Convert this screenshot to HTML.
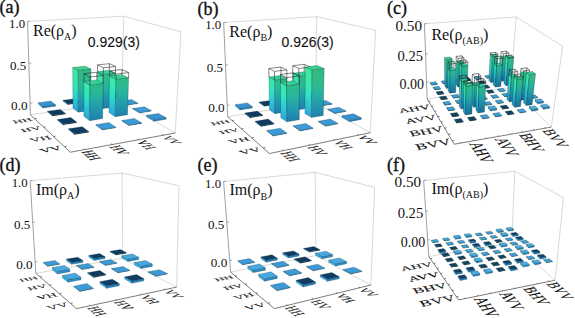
<!DOCTYPE html><html><head><meta charset="utf-8"><style>html,body{margin:0;padding:0;background:#fff;}svg{display:block;font-family:"Liberation Serif",serif;}</style></head><body><svg width="575" height="318" viewBox="0 0 575 318" font-family="Liberation Serif, serif"><defs><linearGradient id="g1" gradientUnits="userSpaceOnUse" x1="102.90" y1="108.62" x2="103.34" y2="74.47"><stop offset="0.000" stop-color="#2aa2d8"/><stop offset="0.167" stop-color="#2ab3d9"/><stop offset="0.333" stop-color="#2bc4d8"/><stop offset="0.500" stop-color="#2ed6ce"/><stop offset="0.667" stop-color="#32e2c1"/><stop offset="0.833" stop-color="#37e7b2"/><stop offset="1.000" stop-color="#3be8a9"/></linearGradient><linearGradient id="g2" gradientUnits="userSpaceOnUse" x1="114.78" y1="106.89" x2="115.46" y2="73.12"><stop offset="0.000" stop-color="#2282ad"/><stop offset="0.167" stop-color="#228fae"/><stop offset="0.333" stop-color="#229dad"/><stop offset="0.500" stop-color="#25aba5"/><stop offset="0.667" stop-color="#28b59b"/><stop offset="0.833" stop-color="#2cb98f"/><stop offset="1.000" stop-color="#30ba87"/></linearGradient><linearGradient id="g3" gradientUnits="userSpaceOnUse" x1="78.28" y1="112.21" x2="78.20" y2="70.46"><stop offset="0.000" stop-color="#2aa2d8"/><stop offset="0.167" stop-color="#2ab6d9"/><stop offset="0.333" stop-color="#2ccbd4"/><stop offset="0.500" stop-color="#30e0c8"/><stop offset="0.667" stop-color="#36e6b6"/><stop offset="0.833" stop-color="#3be8aa"/><stop offset="1.000" stop-color="#40e8a0"/></linearGradient><linearGradient id="g4" gradientUnits="userSpaceOnUse" x1="90.74" y1="110.39" x2="90.97" y2="69.12"><stop offset="0.000" stop-color="#2282ad"/><stop offset="0.167" stop-color="#2292ae"/><stop offset="0.333" stop-color="#23a2aa"/><stop offset="0.500" stop-color="#26b3a0"/><stop offset="0.667" stop-color="#2bb891"/><stop offset="0.833" stop-color="#2fba88"/><stop offset="1.000" stop-color="#33ba80"/></linearGradient><linearGradient id="g5" gradientUnits="userSpaceOnUse" x1="115.25" y1="116.66" x2="116.02" y2="79.29"><stop offset="0.000" stop-color="#2aa2d8"/><stop offset="0.167" stop-color="#2ab4d9"/><stop offset="0.333" stop-color="#2bc6d7"/><stop offset="0.500" stop-color="#2fd8cc"/><stop offset="0.667" stop-color="#33e3bf"/><stop offset="0.833" stop-color="#38e8af"/><stop offset="1.000" stop-color="#3de8a7"/></linearGradient><linearGradient id="g6" gradientUnits="userSpaceOnUse" x1="127.54" y1="114.75" x2="128.56" y2="77.81"><stop offset="0.000" stop-color="#2282ad"/><stop offset="0.167" stop-color="#2290ae"/><stop offset="0.333" stop-color="#229eac"/><stop offset="0.500" stop-color="#25ada3"/><stop offset="0.667" stop-color="#29b698"/><stop offset="0.833" stop-color="#2dba8c"/><stop offset="1.000" stop-color="#30ba85"/></linearGradient><linearGradient id="g7" gradientUnits="userSpaceOnUse" x1="89.74" y1="120.63" x2="89.92" y2="85.03"><stop offset="0.000" stop-color="#2aa2d8"/><stop offset="0.167" stop-color="#2ab2d9"/><stop offset="0.333" stop-color="#2bc3d8"/><stop offset="0.500" stop-color="#2ed4ce"/><stop offset="0.667" stop-color="#32e2c3"/><stop offset="0.833" stop-color="#37e7b4"/><stop offset="1.000" stop-color="#3be8aa"/></linearGradient><linearGradient id="g8" gradientUnits="userSpaceOnUse" x1="102.66" y1="118.62" x2="103.11" y2="83.44"><stop offset="0.000" stop-color="#2282ad"/><stop offset="0.167" stop-color="#228fae"/><stop offset="0.333" stop-color="#229cad"/><stop offset="0.500" stop-color="#25aaa5"/><stop offset="0.667" stop-color="#28b59c"/><stop offset="0.833" stop-color="#2cb990"/><stop offset="1.000" stop-color="#2fba88"/></linearGradient><linearGradient id="g9" gradientUnits="userSpaceOnUse" x1="298.66" y1="109.74" x2="298.81" y2="76.06"><stop offset="0.000" stop-color="#2aa2d8"/><stop offset="0.167" stop-color="#2ab2d9"/><stop offset="0.333" stop-color="#2bc3d8"/><stop offset="0.500" stop-color="#2ed4ce"/><stop offset="0.667" stop-color="#32e2c3"/><stop offset="0.833" stop-color="#37e7b4"/><stop offset="1.000" stop-color="#3be8aa"/></linearGradient><linearGradient id="g10" gradientUnits="userSpaceOnUse" x1="310.07" y1="107.86" x2="310.46" y2="74.57"><stop offset="0.000" stop-color="#2282ad"/><stop offset="0.167" stop-color="#228fae"/><stop offset="0.333" stop-color="#229cad"/><stop offset="0.500" stop-color="#25aaa5"/><stop offset="0.667" stop-color="#28b59c"/><stop offset="0.833" stop-color="#2cb990"/><stop offset="1.000" stop-color="#2fba88"/></linearGradient><linearGradient id="g11" gradientUnits="userSpaceOnUse" x1="274.95" y1="113.64" x2="274.57" y2="80.02"><stop offset="0.000" stop-color="#2aa2d8"/><stop offset="0.167" stop-color="#2ab2d9"/><stop offset="0.333" stop-color="#2ac2d9"/><stop offset="0.500" stop-color="#2ed3cf"/><stop offset="0.667" stop-color="#31e1c4"/><stop offset="0.833" stop-color="#36e6b6"/><stop offset="1.000" stop-color="#3ae8ab"/></linearGradient><linearGradient id="g12" gradientUnits="userSpaceOnUse" x1="286.96" y1="111.67" x2="286.85" y2="78.44"><stop offset="0.000" stop-color="#2282ad"/><stop offset="0.167" stop-color="#228eae"/><stop offset="0.333" stop-color="#229bad"/><stop offset="0.500" stop-color="#24a9a6"/><stop offset="0.667" stop-color="#27b49d"/><stop offset="0.833" stop-color="#2bb891"/><stop offset="1.000" stop-color="#2fba89"/></linearGradient><linearGradient id="g13" gradientUnits="userSpaceOnUse" x1="311.42" y1="117.55" x2="312.03" y2="69.95"><stop offset="0.000" stop-color="#2aa2d8"/><stop offset="0.167" stop-color="#2ab8d9"/><stop offset="0.333" stop-color="#2dcfd2"/><stop offset="0.500" stop-color="#32e2c3"/><stop offset="0.667" stop-color="#38e8af"/><stop offset="0.833" stop-color="#3ee8a5"/><stop offset="1.000" stop-color="#40e8a0"/></linearGradient><linearGradient id="g14" gradientUnits="userSpaceOnUse" x1="323.22" y1="115.47" x2="324.18" y2="68.45"><stop offset="0.000" stop-color="#2282ad"/><stop offset="0.167" stop-color="#2293ae"/><stop offset="0.333" stop-color="#24a6a8"/><stop offset="0.500" stop-color="#28b59c"/><stop offset="0.667" stop-color="#2dba8c"/><stop offset="0.833" stop-color="#31ba84"/><stop offset="1.000" stop-color="#33ba80"/></linearGradient><linearGradient id="g15" gradientUnits="userSpaceOnUse" x1="286.86" y1="121.86" x2="286.73" y2="85.78"><stop offset="0.000" stop-color="#2aa2d8"/><stop offset="0.167" stop-color="#2ab2d9"/><stop offset="0.333" stop-color="#2bc3d8"/><stop offset="0.500" stop-color="#2ed4ce"/><stop offset="0.667" stop-color="#32e2c3"/><stop offset="0.833" stop-color="#37e7b4"/><stop offset="1.000" stop-color="#3be8aa"/></linearGradient><linearGradient id="g16" gradientUnits="userSpaceOnUse" x1="299.31" y1="119.68" x2="299.47" y2="84.04"><stop offset="0.000" stop-color="#2282ad"/><stop offset="0.167" stop-color="#228fae"/><stop offset="0.333" stop-color="#229cad"/><stop offset="0.500" stop-color="#25aaa5"/><stop offset="0.667" stop-color="#28b59c"/><stop offset="0.833" stop-color="#2cb990"/><stop offset="1.000" stop-color="#2fba88"/></linearGradient><linearGradient id="g17" gradientUnits="userSpaceOnUse" x1="501.67" y1="81.23" x2="503.17" y2="58.21"><stop offset="0.000" stop-color="#1f8cc0"/><stop offset="0.167" stop-color="#229fc9"/><stop offset="0.333" stop-color="#26b1d3"/><stop offset="0.500" stop-color="#2ac4ce"/><stop offset="0.667" stop-color="#2fd7c6"/><stop offset="0.833" stop-color="#34e0ba"/><stop offset="1.000" stop-color="#3ae6ad"/></linearGradient><linearGradient id="g18" gradientUnits="userSpaceOnUse" x1="506.92" y1="80.55" x2="508.58" y2="57.61"><stop offset="0.000" stop-color="#19709a"/><stop offset="0.167" stop-color="#1b7fa1"/><stop offset="0.333" stop-color="#1e8ea9"/><stop offset="0.500" stop-color="#229da4"/><stop offset="0.667" stop-color="#25ac9f"/><stop offset="0.833" stop-color="#2ab395"/><stop offset="1.000" stop-color="#2eb88a"/></linearGradient><linearGradient id="g19" gradientUnits="userSpaceOnUse" x1="491.02" y1="82.61" x2="492.35" y2="56.55"><stop offset="0.000" stop-color="#1f8cc0"/><stop offset="0.167" stop-color="#23a1ca"/><stop offset="0.333" stop-color="#26b6d3"/><stop offset="0.500" stop-color="#2ccbcb"/><stop offset="0.667" stop-color="#31ddc1"/><stop offset="0.833" stop-color="#37e3b2"/><stop offset="1.000" stop-color="#3ee7a5"/></linearGradient><linearGradient id="g20" gradientUnits="userSpaceOnUse" x1="496.37" y1="81.91" x2="497.88" y2="55.96"><stop offset="0.000" stop-color="#19709a"/><stop offset="0.167" stop-color="#1c81a2"/><stop offset="0.333" stop-color="#1f91a9"/><stop offset="0.500" stop-color="#23a2a2"/><stop offset="0.667" stop-color="#27b19b"/><stop offset="0.833" stop-color="#2cb68f"/><stop offset="1.000" stop-color="#31b984"/></linearGradient><linearGradient id="g21" gradientUnits="userSpaceOnUse" x1="506.17" y1="85.67" x2="508.14" y2="58.23"><stop offset="0.000" stop-color="#1f8cc0"/><stop offset="0.167" stop-color="#23a2cb"/><stop offset="0.333" stop-color="#27b8d3"/><stop offset="0.500" stop-color="#2ccdca"/><stop offset="0.667" stop-color="#32debf"/><stop offset="0.833" stop-color="#39e5af"/><stop offset="1.000" stop-color="#3fe8a2"/></linearGradient><linearGradient id="g22" gradientUnits="userSpaceOnUse" x1="511.52" y1="84.96" x2="513.68" y2="57.62"><stop offset="0.000" stop-color="#19709a"/><stop offset="0.167" stop-color="#1c81a2"/><stop offset="0.333" stop-color="#1f93a8"/><stop offset="0.500" stop-color="#23a4a1"/><stop offset="0.667" stop-color="#28b299"/><stop offset="0.833" stop-color="#2db78c"/><stop offset="1.000" stop-color="#33b981"/></linearGradient><linearGradient id="g23" gradientUnits="userSpaceOnUse" x1="495.33" y1="87.12" x2="496.55" y2="65.86"><stop offset="0.000" stop-color="#1f8cc0"/><stop offset="0.167" stop-color="#229dc8"/><stop offset="0.333" stop-color="#25aed1"/><stop offset="0.500" stop-color="#29bfd0"/><stop offset="0.667" stop-color="#2dd0c9"/><stop offset="0.833" stop-color="#31ddc1"/><stop offset="1.000" stop-color="#36e2b5"/></linearGradient><linearGradient id="g24" gradientUnits="userSpaceOnUse" x1="500.78" y1="86.39" x2="502.15" y2="65.21"><stop offset="0.000" stop-color="#19709a"/><stop offset="0.167" stop-color="#1b7ea0"/><stop offset="0.333" stop-color="#1e8ba7"/><stop offset="0.500" stop-color="#2199a6"/><stop offset="0.667" stop-color="#24a6a1"/><stop offset="0.833" stop-color="#27b19a"/><stop offset="1.000" stop-color="#2cb591"/></linearGradient><linearGradient id="g25" gradientUnits="userSpaceOnUse" x1="457.88" y1="86.89" x2="458.04" y2="63.16"><stop offset="0.000" stop-color="#1f8cc0"/><stop offset="0.167" stop-color="#229fc9"/><stop offset="0.333" stop-color="#26b1d3"/><stop offset="0.500" stop-color="#2ac4ce"/><stop offset="0.667" stop-color="#2fd7c6"/><stop offset="0.833" stop-color="#34e0ba"/><stop offset="1.000" stop-color="#3ae6ad"/></linearGradient><linearGradient id="g26" gradientUnits="userSpaceOnUse" x1="463.53" y1="86.16" x2="463.87" y2="62.52"><stop offset="0.000" stop-color="#19709a"/><stop offset="0.167" stop-color="#1b7fa1"/><stop offset="0.333" stop-color="#1e8ea9"/><stop offset="0.500" stop-color="#229da4"/><stop offset="0.667" stop-color="#25ac9f"/><stop offset="0.833" stop-color="#2ab395"/><stop offset="1.000" stop-color="#2eb88a"/></linearGradient><linearGradient id="g27" gradientUnits="userSpaceOnUse" x1="446.41" y1="88.37" x2="446.16" y2="59.73"><stop offset="0.000" stop-color="#1f8cc0"/><stop offset="0.167" stop-color="#23a2cb"/><stop offset="0.333" stop-color="#27b8d2"/><stop offset="0.500" stop-color="#2dcfc9"/><stop offset="0.667" stop-color="#33dfbe"/><stop offset="0.833" stop-color="#39e5ae"/><stop offset="1.000" stop-color="#40e8a0"/></linearGradient><linearGradient id="g28" gradientUnits="userSpaceOnUse" x1="452.17" y1="87.63" x2="452.14" y2="59.09"><stop offset="0.000" stop-color="#19709a"/><stop offset="0.167" stop-color="#1c82a2"/><stop offset="0.333" stop-color="#1f94a8"/><stop offset="0.500" stop-color="#24a5a1"/><stop offset="0.667" stop-color="#29b298"/><stop offset="0.833" stop-color="#2eb78b"/><stop offset="1.000" stop-color="#33ba80"/></linearGradient><linearGradient id="g29" gradientUnits="userSpaceOnUse" x1="461.57" y1="91.63" x2="461.87" y2="66.32"><stop offset="0.000" stop-color="#1f8cc0"/><stop offset="0.167" stop-color="#22a0ca"/><stop offset="0.333" stop-color="#26b3d4"/><stop offset="0.500" stop-color="#2bc7cd"/><stop offset="0.667" stop-color="#30dac5"/><stop offset="0.833" stop-color="#35e1b7"/><stop offset="1.000" stop-color="#3be6aa"/></linearGradient><linearGradient id="g30" gradientUnits="userSpaceOnUse" x1="467.33" y1="90.86" x2="467.82" y2="65.65"><stop offset="0.000" stop-color="#19709a"/><stop offset="0.167" stop-color="#1c80a1"/><stop offset="0.333" stop-color="#1e8fa9"/><stop offset="0.500" stop-color="#229fa4"/><stop offset="0.667" stop-color="#26af9d"/><stop offset="0.833" stop-color="#2bb493"/><stop offset="1.000" stop-color="#2fb888"/></linearGradient><linearGradient id="g31" gradientUnits="userSpaceOnUse" x1="449.88" y1="93.20" x2="449.79" y2="70.67"><stop offset="0.000" stop-color="#1f8cc0"/><stop offset="0.167" stop-color="#229dc9"/><stop offset="0.333" stop-color="#25afd1"/><stop offset="0.500" stop-color="#29c0cf"/><stop offset="0.667" stop-color="#2dd1c8"/><stop offset="0.833" stop-color="#32debf"/><stop offset="1.000" stop-color="#37e3b3"/></linearGradient><linearGradient id="g32" gradientUnits="userSpaceOnUse" x1="455.75" y1="92.41" x2="455.84" y2="69.97"><stop offset="0.000" stop-color="#19709a"/><stop offset="0.167" stop-color="#1b7ea1"/><stop offset="0.333" stop-color="#1e8ca7"/><stop offset="0.500" stop-color="#219aa6"/><stop offset="0.667" stop-color="#24a7a0"/><stop offset="0.833" stop-color="#28b299"/><stop offset="1.000" stop-color="#2cb68f"/></linearGradient><linearGradient id="g33" gradientUnits="userSpaceOnUse" x1="520.94" y1="100.24" x2="523.36" y2="74.44"><stop offset="0.000" stop-color="#1f8cc0"/><stop offset="0.167" stop-color="#22a0ca"/><stop offset="0.333" stop-color="#26b3d4"/><stop offset="0.500" stop-color="#2bc7cd"/><stop offset="0.667" stop-color="#30dac5"/><stop offset="0.833" stop-color="#35e1b7"/><stop offset="1.000" stop-color="#3be6aa"/></linearGradient><linearGradient id="g34" gradientUnits="userSpaceOnUse" x1="526.59" y1="99.41" x2="529.19" y2="73.71"><stop offset="0.000" stop-color="#19709a"/><stop offset="0.167" stop-color="#1c80a1"/><stop offset="0.333" stop-color="#1e8fa9"/><stop offset="0.500" stop-color="#229fa4"/><stop offset="0.667" stop-color="#26af9d"/><stop offset="0.833" stop-color="#2bb493"/><stop offset="1.000" stop-color="#2fb888"/></linearGradient><linearGradient id="g35" gradientUnits="userSpaceOnUse" x1="509.49" y1="101.94" x2="511.42" y2="77.16"><stop offset="0.000" stop-color="#1f8cc0"/><stop offset="0.167" stop-color="#229fc9"/><stop offset="0.333" stop-color="#26b1d3"/><stop offset="0.500" stop-color="#2ac4ce"/><stop offset="0.667" stop-color="#2fd7c6"/><stop offset="0.833" stop-color="#34e0ba"/><stop offset="1.000" stop-color="#3ae6ad"/></linearGradient><linearGradient id="g36" gradientUnits="userSpaceOnUse" x1="515.24" y1="101.09" x2="517.36" y2="76.40"><stop offset="0.000" stop-color="#19709a"/><stop offset="0.167" stop-color="#1b7fa1"/><stop offset="0.333" stop-color="#1e8ea9"/><stop offset="0.500" stop-color="#229da4"/><stop offset="0.667" stop-color="#25ac9f"/><stop offset="0.833" stop-color="#2ab395"/><stop offset="1.000" stop-color="#2eb88a"/></linearGradient><linearGradient id="g37" gradientUnits="userSpaceOnUse" x1="526.33" y1="105.56" x2="529.47" y2="74.72"><stop offset="0.000" stop-color="#1f8cc0"/><stop offset="0.167" stop-color="#23a3cb"/><stop offset="0.333" stop-color="#27bad2"/><stop offset="0.500" stop-color="#2dd1c9"/><stop offset="0.667" stop-color="#33dfbc"/><stop offset="0.833" stop-color="#3ae6ab"/><stop offset="1.000" stop-color="#40e8a0"/></linearGradient><linearGradient id="g38" gradientUnits="userSpaceOnUse" x1="532.08" y1="104.68" x2="535.45" y2="73.96"><stop offset="0.000" stop-color="#19709a"/><stop offset="0.167" stop-color="#1c82a3"/><stop offset="0.333" stop-color="#2095a8"/><stop offset="0.500" stop-color="#24a7a0"/><stop offset="0.667" stop-color="#29b396"/><stop offset="0.833" stop-color="#2fb889"/><stop offset="1.000" stop-color="#33ba80"/></linearGradient><linearGradient id="g39" gradientUnits="userSpaceOnUse" x1="514.66" y1="107.35" x2="517.06" y2="79.40"><stop offset="0.000" stop-color="#1f8cc0"/><stop offset="0.167" stop-color="#23a1ca"/><stop offset="0.333" stop-color="#26b5d4"/><stop offset="0.500" stop-color="#2bcacb"/><stop offset="0.667" stop-color="#31ddc2"/><stop offset="0.833" stop-color="#37e3b3"/><stop offset="1.000" stop-color="#3de7a6"/></linearGradient><linearGradient id="g40" gradientUnits="userSpaceOnUse" x1="520.53" y1="106.45" x2="523.14" y2="78.61"><stop offset="0.000" stop-color="#19709a"/><stop offset="0.167" stop-color="#1c80a2"/><stop offset="0.333" stop-color="#1f91a9"/><stop offset="0.500" stop-color="#23a1a3"/><stop offset="0.667" stop-color="#27b19b"/><stop offset="0.833" stop-color="#2cb68f"/><stop offset="1.000" stop-color="#31b985"/></linearGradient><linearGradient id="g41" gradientUnits="userSpaceOnUse" x1="473.71" y1="107.24" x2="474.34" y2="85.58"><stop offset="0.000" stop-color="#1f8cc0"/><stop offset="0.167" stop-color="#229cc8"/><stop offset="0.333" stop-color="#25acd0"/><stop offset="0.500" stop-color="#28bcd1"/><stop offset="0.667" stop-color="#2cccca"/><stop offset="0.833" stop-color="#30dcc4"/><stop offset="1.000" stop-color="#35e1b8"/></linearGradient><linearGradient id="g42" gradientUnits="userSpaceOnUse" x1="479.83" y1="106.33" x2="480.63" y2="84.77"><stop offset="0.000" stop-color="#19709a"/><stop offset="0.167" stop-color="#1b7da0"/><stop offset="0.333" stop-color="#1d8aa6"/><stop offset="0.500" stop-color="#2096a7"/><stop offset="0.667" stop-color="#23a3a2"/><stop offset="0.833" stop-color="#26b09d"/><stop offset="1.000" stop-color="#2ab494"/></linearGradient><linearGradient id="g43" gradientUnits="userSpaceOnUse" x1="461.29" y1="109.07" x2="461.61" y2="81.58"><stop offset="0.000" stop-color="#1f8cc0"/><stop offset="0.167" stop-color="#22a0ca"/><stop offset="0.333" stop-color="#26b4d4"/><stop offset="0.500" stop-color="#2bc8cc"/><stop offset="0.667" stop-color="#30dcc4"/><stop offset="0.833" stop-color="#36e2b6"/><stop offset="1.000" stop-color="#3ce7a8"/></linearGradient><linearGradient id="g44" gradientUnits="userSpaceOnUse" x1="467.54" y1="108.15" x2="468.09" y2="80.77"><stop offset="0.000" stop-color="#19709a"/><stop offset="0.167" stop-color="#1c80a2"/><stop offset="0.333" stop-color="#1e90aa"/><stop offset="0.500" stop-color="#22a0a3"/><stop offset="0.667" stop-color="#26b09d"/><stop offset="0.833" stop-color="#2bb591"/><stop offset="1.000" stop-color="#30b986"/></linearGradient><linearGradient id="g45" gradientUnits="userSpaceOnUse" x1="478.16" y1="112.95" x2="479.07" y2="87.12"><stop offset="0.000" stop-color="#1f8cc0"/><stop offset="0.167" stop-color="#229fc9"/><stop offset="0.333" stop-color="#26b1d3"/><stop offset="0.500" stop-color="#2ac4ce"/><stop offset="0.667" stop-color="#2fd7c6"/><stop offset="0.833" stop-color="#34e0ba"/><stop offset="1.000" stop-color="#3ae6ad"/></linearGradient><linearGradient id="g46" gradientUnits="userSpaceOnUse" x1="484.40" y1="111.99" x2="485.54" y2="86.27"><stop offset="0.000" stop-color="#19709a"/><stop offset="0.167" stop-color="#1b7fa1"/><stop offset="0.333" stop-color="#1e8ea9"/><stop offset="0.500" stop-color="#229da4"/><stop offset="0.667" stop-color="#25ac9f"/><stop offset="0.833" stop-color="#2ab395"/><stop offset="1.000" stop-color="#2eb88a"/></linearGradient><linearGradient id="g47" gradientUnits="userSpaceOnUse" x1="465.48" y1="114.90" x2="465.98" y2="86.27"><stop offset="0.000" stop-color="#1f8cc0"/><stop offset="0.167" stop-color="#23a0ca"/><stop offset="0.333" stop-color="#26b5d4"/><stop offset="0.500" stop-color="#2bc9cb"/><stop offset="0.667" stop-color="#31ddc3"/><stop offset="0.833" stop-color="#37e3b4"/><stop offset="1.000" stop-color="#3de7a6"/></linearGradient><linearGradient id="g48" gradientUnits="userSpaceOnUse" x1="471.85" y1="113.92" x2="472.61" y2="85.41"><stop offset="0.000" stop-color="#19709a"/><stop offset="0.167" stop-color="#1c80a2"/><stop offset="0.333" stop-color="#1f91a9"/><stop offset="0.500" stop-color="#23a1a3"/><stop offset="0.667" stop-color="#27b09c"/><stop offset="0.833" stop-color="#2cb590"/><stop offset="1.000" stop-color="#31b985"/></linearGradient></defs><rect width="575" height="318" fill="#fff"/><line x1="27.55" y1="21.47" x2="123.82" y2="16.21" stroke="#c8c8c8" stroke-width="0.70"/><line x1="123.82" y1="16.21" x2="180.98" y2="31.77" stroke="#c8c8c8" stroke-width="0.70"/><line x1="123.82" y1="16.21" x2="121.76" y2="101.89" stroke="#c8c8c8" stroke-width="0.70"/><line x1="180.98" y1="31.77" x2="175.19" y2="133.02" stroke="#c8c8c8" stroke-width="0.70"/><line x1="30.42" y1="114.81" x2="121.76" y2="101.89" stroke="#c8c8c8" stroke-width="0.70"/><line x1="121.76" y1="101.89" x2="175.19" y2="133.02" stroke="#c8c8c8" stroke-width="0.70"/><line x1="27.55" y1="21.47" x2="30.42" y2="114.81" stroke="#888" stroke-width="0.80"/><line x1="27.55" y1="21.47" x2="30.19" y2="21.32" stroke="#888" stroke-width="0.7"/><text x="25.05" y="27.97" font-size="12.8" text-anchor="end" fill="#111">1.0</text><line x1="28.84" y1="63.31" x2="31.41" y2="63.07" stroke="#888" stroke-width="0.7"/><text x="26.34" y="69.81" font-size="13.0" text-anchor="end" fill="#111">0.5</text><line x1="30.06" y1="103.20" x2="32.57" y2="102.88" stroke="#888" stroke-width="0.7"/><text x="27.56" y="109.70" font-size="13.2" text-anchor="end" fill="#111">0.0</text><line x1="30.42" y1="114.81" x2="70.33" y2="152.21" stroke="#444" stroke-width="0.70"/><line x1="70.33" y1="152.21" x2="175.19" y2="133.02" stroke="#444" stroke-width="0.70"/><line x1="34.62" y1="118.75" x2="36.65" y2="118.45" stroke="#333" stroke-width="0.60"/><line x1="84.71" y1="149.58" x2="83.70" y2="148.70" stroke="#333" stroke-width="0.60"/><line x1="43.62" y1="127.18" x2="45.73" y2="126.86" stroke="#333" stroke-width="0.60"/><line x1="112.31" y1="144.53" x2="111.21" y2="143.69" stroke="#333" stroke-width="0.60"/><line x1="53.51" y1="136.45" x2="55.70" y2="136.09" stroke="#333" stroke-width="0.60"/><line x1="138.46" y1="139.74" x2="137.28" y2="138.95" stroke="#333" stroke-width="0.60"/><line x1="64.43" y1="146.68" x2="66.71" y2="146.28" stroke="#333" stroke-width="0.60"/><line x1="163.26" y1="135.20" x2="162.02" y2="134.44" stroke="#333" stroke-width="0.60"/><text transform="matrix(1.2866,-0.1895,0.4310,0.4115,33.10,120.66)" font-size="10" text-anchor="end" fill="#111" stroke="#111" stroke-width="0.1">HH</text><text transform="matrix(0.6961,0.6217,-1.5834,0.2924,81.09,151.87)" font-size="10" text-anchor="start" fill="#111" stroke="#111" stroke-width="0.1">HH</text><text transform="matrix(1.3367,-0.2094,0.4731,0.4517,42.13,129.29)" font-size="10" text-anchor="end" fill="#111" stroke="#111" stroke-width="0.1">HV</text><text transform="matrix(0.7570,0.5900,-1.4981,0.2766,109.09,146.70)" font-size="10" text-anchor="start" fill="#111" stroke="#111" stroke-width="0.1">HV</text><text transform="matrix(1.3906,-0.2324,0.5217,0.4981,52.07,138.77)" font-size="10" text-anchor="end" fill="#111" stroke="#111" stroke-width="0.1">VH</text><text transform="matrix(0.8105,0.5607,-1.4195,0.2621,135.61,141.80)" font-size="10" text-anchor="start" fill="#111" stroke="#111" stroke-width="0.1">VH</text><text transform="matrix(1.4487,-0.2592,0.5782,0.5520,63.06,149.26)" font-size="10" text-anchor="end" fill="#111" stroke="#111" stroke-width="0.1">VV</text><text transform="matrix(0.8576,0.5336,-1.3469,0.2487,160.75,137.16)" font-size="10" text-anchor="start" fill="#111" stroke="#111" stroke-width="0.1">VV</text><polygon points="108.72,94.88 114.36,98.17 114.37,97.57 108.73,94.29" fill="#2496d8" stroke="rgba(0,40,40,0.55)" stroke-width="0.45" stroke-linejoin="round"/><polygon points="114.36,98.17 125.34,96.67 125.36,96.08 114.37,97.57" fill="#0c2c48" stroke="rgba(0,40,40,0.55)" stroke-width="0.45" stroke-linejoin="round"/><polygon points="108.73,94.29 119.56,92.86 125.36,96.08 114.37,97.57" fill="#113b5e" stroke="rgba(0,40,40,0.55)" stroke-width="0.45" stroke-linejoin="round"/><polygon points="86.35,97.85 91.63,101.28 91.63,100.67 86.35,97.24" fill="#2496d8" stroke="rgba(0,40,40,0.55)" stroke-width="0.45" stroke-linejoin="round"/><polygon points="91.63,101.28 103.12,99.71 103.13,99.10 91.63,100.67" fill="#0c2c48" stroke="rgba(0,40,40,0.55)" stroke-width="0.45" stroke-linejoin="round"/><polygon points="86.35,97.24 97.67,95.75 103.13,99.10 91.63,100.67" fill="#113b5e" stroke="rgba(0,40,40,0.55)" stroke-width="0.45" stroke-linejoin="round"/><polygon points="120.24,101.61 126.38,105.20 126.39,104.74 120.25,101.15" fill="#32acf0" stroke="rgba(0,40,40,0.55)" stroke-width="0.45" stroke-linejoin="round"/><polygon points="126.38,105.20 137.71,103.56 137.73,103.09 126.39,104.74" fill="#2b84c4" stroke="rgba(0,40,40,0.55)" stroke-width="0.45" stroke-linejoin="round"/><polygon points="120.25,101.15 131.41,99.59 137.73,103.09 126.39,104.74" fill="#3d9ad8" stroke="rgba(0,40,40,0.55)" stroke-width="0.45" stroke-linejoin="round"/><polygon points="62.95,100.95 67.83,104.53 67.83,103.91 62.95,100.34" fill="#2496d8" stroke="rgba(0,40,40,0.55)" stroke-width="0.45" stroke-linejoin="round"/><polygon points="67.83,104.53 79.87,102.89 79.87,102.27 67.83,103.91" fill="#0c2c48" stroke="rgba(0,40,40,0.55)" stroke-width="0.45" stroke-linejoin="round"/><polygon points="62.95,100.34 74.78,98.77 79.87,102.27 67.83,103.91" fill="#113b5e" stroke="rgba(0,40,40,0.55)" stroke-width="0.45" stroke-linejoin="round"/><polygon points="97.14,104.87 102.90,108.62 103.34,74.47 97.46,71.42" fill="url(#g1)" stroke="rgba(0,40,40,0.55)" stroke-width="0.45" stroke-linejoin="round"/><polygon points="102.90,108.62 114.78,106.89 115.46,73.12 103.34,74.47" fill="url(#g2)" stroke="rgba(0,40,40,0.55)" stroke-width="0.45" stroke-linejoin="round"/><polygon points="97.46,71.42 109.37,70.14 115.46,73.12 103.34,74.47" fill="#35d198" stroke="rgba(0,40,40,0.55)" stroke-width="0.45" stroke-linejoin="round"/><line x1="97.52" y1="64.90" x2="109.47" y2="63.68" stroke="#222" stroke-width="0.55"/><line x1="109.47" y1="63.68" x2="115.59" y2="66.53" stroke="#222" stroke-width="0.55"/><line x1="115.59" y1="66.53" x2="103.43" y2="67.81" stroke="#222" stroke-width="0.55"/><line x1="103.43" y1="67.81" x2="97.52" y2="64.90" stroke="#222" stroke-width="0.55"/><line x1="97.46" y1="71.42" x2="97.52" y2="64.90" stroke="#222" stroke-width="0.55"/><line x1="109.37" y1="70.14" x2="109.47" y2="63.68" stroke="#222" stroke-width="0.55"/><line x1="115.46" y1="73.12" x2="115.59" y2="66.53" stroke="#222" stroke-width="0.55"/><line x1="103.34" y1="74.47" x2="103.43" y2="67.81" stroke="#222" stroke-width="0.55"/><polygon points="38.46,104.20 42.89,107.94 42.86,106.34 38.42,102.63" fill="#32acf0" stroke="rgba(0,40,40,0.55)" stroke-width="0.45" stroke-linejoin="round"/><polygon points="42.89,107.94 55.51,106.22 55.49,104.64 42.86,106.34" fill="#2b84c4" stroke="rgba(0,40,40,0.55)" stroke-width="0.45" stroke-linejoin="round"/><polygon points="38.42,102.63 50.82,101.00 55.49,104.64 42.86,106.34" fill="#3b92d2" stroke="rgba(0,40,40,0.55)" stroke-width="0.45" stroke-linejoin="round"/><polygon points="132.80,108.96 139.52,112.89 139.54,112.40 132.82,108.48" fill="#32acf0" stroke="rgba(0,40,40,0.55)" stroke-width="0.45" stroke-linejoin="round"/><polygon points="139.52,112.89 151.21,111.07 151.23,110.59 139.54,112.40" fill="#2b84c4" stroke="rgba(0,40,40,0.55)" stroke-width="0.45" stroke-linejoin="round"/><polygon points="132.82,108.48 144.33,106.76 151.23,110.59 139.54,112.40" fill="#3d9ad8" stroke="rgba(0,40,40,0.55)" stroke-width="0.45" stroke-linejoin="round"/><polygon points="72.94,108.28 78.28,112.21 78.20,70.46 72.73,67.41" fill="url(#g3)" stroke="rgba(0,40,40,0.55)" stroke-width="0.45" stroke-linejoin="round"/><polygon points="78.28,112.21 90.74,110.39 90.97,69.12 78.20,70.46" fill="url(#g4)" stroke="rgba(0,40,40,0.55)" stroke-width="0.45" stroke-linejoin="round"/><polygon points="72.73,67.41 85.27,66.14 90.97,69.12 78.20,70.46" fill="#3ad190" stroke="rgba(0,40,40,0.55)" stroke-width="0.45" stroke-linejoin="round"/><polygon points="108.94,112.55 115.25,116.66 116.02,79.29 109.54,75.97" fill="url(#g5)" stroke="rgba(0,40,40,0.55)" stroke-width="0.45" stroke-linejoin="round"/><polygon points="115.25,116.66 127.54,114.75 128.56,77.81 116.02,79.29" fill="url(#g6)" stroke="rgba(0,40,40,0.55)" stroke-width="0.45" stroke-linejoin="round"/><polygon points="109.54,75.97 121.87,74.57 128.56,77.81 116.02,79.29" fill="#37d196" stroke="rgba(0,40,40,0.55)" stroke-width="0.45" stroke-linejoin="round"/><line x1="109.63" y1="70.86" x2="121.99" y2="69.52" stroke="#222" stroke-width="0.55"/><line x1="121.99" y1="69.52" x2="128.71" y2="72.64" stroke="#222" stroke-width="0.55"/><line x1="128.71" y1="72.64" x2="116.12" y2="74.06" stroke="#222" stroke-width="0.55"/><line x1="116.12" y1="74.06" x2="109.63" y2="70.86" stroke="#222" stroke-width="0.55"/><line x1="109.54" y1="75.97" x2="109.63" y2="70.86" stroke="#222" stroke-width="0.55"/><line x1="121.87" y1="74.57" x2="121.99" y2="69.52" stroke="#222" stroke-width="0.55"/><line x1="128.56" y1="77.81" x2="128.71" y2="72.64" stroke="#222" stroke-width="0.55"/><line x1="116.02" y1="79.29" x2="116.12" y2="74.06" stroke="#222" stroke-width="0.55"/><polygon points="47.54,111.86 52.41,115.97 52.40,115.30 47.53,111.21" fill="#2496d8" stroke="rgba(0,40,40,0.55)" stroke-width="0.45" stroke-linejoin="round"/><polygon points="52.41,115.97 65.50,114.07 65.50,113.41 52.40,115.30" fill="#0c2c48" stroke="rgba(0,40,40,0.55)" stroke-width="0.45" stroke-linejoin="round"/><polygon points="47.53,111.21 60.38,109.41 65.50,113.41 52.40,115.30" fill="#113b5e" stroke="rgba(0,40,40,0.55)" stroke-width="0.45" stroke-linejoin="round"/><polygon points="146.56,117.01 153.94,121.32 154.02,119.63 146.62,115.34" fill="#32acf0" stroke="rgba(0,40,40,0.55)" stroke-width="0.45" stroke-linejoin="round"/><polygon points="153.94,121.32 166.02,119.31 166.10,117.63 154.02,119.63" fill="#2b84c4" stroke="rgba(0,40,40,0.55)" stroke-width="0.45" stroke-linejoin="round"/><polygon points="146.62,115.34 158.52,113.45 166.10,117.63 154.02,119.63" fill="#3b92d2" stroke="rgba(0,40,40,0.55)" stroke-width="0.45" stroke-linejoin="round"/><polygon points="83.87,116.32 89.74,120.63 89.92,85.03 83.92,81.49" fill="url(#g7)" stroke="rgba(0,40,40,0.55)" stroke-width="0.45" stroke-linejoin="round"/><polygon points="89.74,120.63 102.66,118.62 103.11,83.44 89.92,85.03" fill="url(#g8)" stroke="rgba(0,40,40,0.55)" stroke-width="0.45" stroke-linejoin="round"/><polygon points="83.92,81.49 96.87,79.99 103.11,83.44 89.92,85.03" fill="#35d199" stroke="rgba(0,40,40,0.55)" stroke-width="0.45" stroke-linejoin="round"/><line x1="83.93" y1="73.65" x2="96.94" y2="72.24" stroke="#222" stroke-width="0.55"/><line x1="96.94" y1="72.24" x2="103.21" y2="75.51" stroke="#222" stroke-width="0.55"/><line x1="103.21" y1="75.51" x2="89.96" y2="77.01" stroke="#222" stroke-width="0.55"/><line x1="89.96" y1="77.01" x2="83.93" y2="73.65" stroke="#222" stroke-width="0.55"/><line x1="83.92" y1="81.49" x2="83.93" y2="73.65" stroke="#222" stroke-width="0.55"/><line x1="96.87" y1="79.99" x2="96.94" y2="72.24" stroke="#222" stroke-width="0.55"/><line x1="103.11" y1="83.44" x2="103.21" y2="75.51" stroke="#222" stroke-width="0.55"/><line x1="89.92" y1="85.03" x2="89.96" y2="77.01" stroke="#222" stroke-width="0.55"/><polygon points="121.88,120.98 128.84,125.51 128.86,124.99 121.89,120.47" fill="#32acf0" stroke="rgba(0,40,40,0.55)" stroke-width="0.45" stroke-linejoin="round"/><polygon points="128.84,125.51 141.56,123.39 141.57,122.87 128.86,124.99" fill="#2b84c4" stroke="rgba(0,40,40,0.55)" stroke-width="0.45" stroke-linejoin="round"/><polygon points="121.89,120.47 134.39,118.46 141.57,122.87 128.86,124.99" fill="#3d9ad8" stroke="rgba(0,40,40,0.55)" stroke-width="0.45" stroke-linejoin="round"/><polygon points="57.51,120.28 62.88,124.81 62.87,124.11 57.50,119.60" fill="#2496d8" stroke="rgba(0,40,40,0.55)" stroke-width="0.45" stroke-linejoin="round"/><polygon points="62.88,124.81 76.48,122.69 76.48,122.00 62.87,124.11" fill="#0c2c48" stroke="rgba(0,40,40,0.55)" stroke-width="0.45" stroke-linejoin="round"/><polygon points="57.50,119.60 70.86,117.60 76.48,122.00 62.87,124.11" fill="#113b5e" stroke="rgba(0,40,40,0.55)" stroke-width="0.45" stroke-linejoin="round"/><polygon points="95.90,125.16 102.38,129.92 102.39,129.38 95.91,124.63" fill="#32acf0" stroke="rgba(0,40,40,0.55)" stroke-width="0.45" stroke-linejoin="round"/><polygon points="102.38,129.92 115.79,127.68 115.80,127.16 102.39,129.38" fill="#2b84c4" stroke="rgba(0,40,40,0.55)" stroke-width="0.45" stroke-linejoin="round"/><polygon points="95.91,124.63 109.07,122.52 115.80,127.16 102.39,129.38" fill="#3d9ad8" stroke="rgba(0,40,40,0.55)" stroke-width="0.45" stroke-linejoin="round"/><polygon points="68.52,129.56 74.45,134.57 74.45,133.84 68.51,128.85" fill="#2496d8" stroke="rgba(0,40,40,0.55)" stroke-width="0.45" stroke-linejoin="round"/><polygon points="74.45,134.57 88.61,132.21 88.61,131.49 74.45,133.84" fill="#0c2c48" stroke="rgba(0,40,40,0.55)" stroke-width="0.45" stroke-linejoin="round"/><polygon points="68.51,128.85 82.39,126.63 88.61,131.49 74.45,133.84" fill="#113b5e" stroke="rgba(0,40,40,0.55)" stroke-width="0.45" stroke-linejoin="round"/><line x1="223.70" y1="22.54" x2="316.82" y2="16.61" stroke="#c8c8c8" stroke-width="0.70"/><line x1="316.82" y1="16.61" x2="375.59" y2="30.38" stroke="#c8c8c8" stroke-width="0.70"/><line x1="316.82" y1="16.61" x2="315.51" y2="102.66" stroke="#c8c8c8" stroke-width="0.70"/><line x1="375.59" y1="30.38" x2="370.28" y2="132.71" stroke="#c8c8c8" stroke-width="0.70"/><line x1="227.68" y1="116.71" x2="315.51" y2="102.66" stroke="#c8c8c8" stroke-width="0.70"/><line x1="315.51" y1="102.66" x2="370.28" y2="132.71" stroke="#c8c8c8" stroke-width="0.70"/><line x1="223.70" y1="22.54" x2="227.68" y2="116.71" stroke="#888" stroke-width="0.80"/><line x1="223.70" y1="22.54" x2="226.26" y2="22.38" stroke="#888" stroke-width="0.7"/><text x="221.20" y="29.04" font-size="12.8" text-anchor="end" fill="#111">1.0</text><line x1="225.50" y1="65.06" x2="227.99" y2="64.79" stroke="#888" stroke-width="0.7"/><text x="223.00" y="71.56" font-size="13.0" text-anchor="end" fill="#111">0.5</text><line x1="227.20" y1="105.39" x2="229.63" y2="105.03" stroke="#888" stroke-width="0.7"/><text x="224.70" y="111.89" font-size="13.2" text-anchor="end" fill="#111">0.0</text><line x1="227.68" y1="116.71" x2="269.43" y2="153.51" stroke="#444" stroke-width="0.70"/><line x1="269.43" y1="153.51" x2="370.28" y2="132.71" stroke="#444" stroke-width="0.70"/><line x1="232.05" y1="120.55" x2="234.01" y2="120.23" stroke="#333" stroke-width="0.60"/><line x1="283.34" y1="150.64" x2="282.28" y2="149.77" stroke="#333" stroke-width="0.60"/><line x1="241.42" y1="128.82" x2="243.46" y2="128.46" stroke="#333" stroke-width="0.60"/><line x1="309.97" y1="145.15" x2="308.82" y2="144.33" stroke="#333" stroke-width="0.60"/><line x1="251.76" y1="137.93" x2="253.88" y2="137.54" stroke="#333" stroke-width="0.60"/><line x1="335.10" y1="139.97" x2="333.89" y2="139.19" stroke="#333" stroke-width="0.60"/><line x1="263.22" y1="148.03" x2="265.42" y2="147.59" stroke="#333" stroke-width="0.60"/><line x1="358.88" y1="135.07" x2="357.60" y2="134.33" stroke="#333" stroke-width="0.60"/><text transform="matrix(1.2443,-0.2069,0.4486,0.4029,230.69,122.48)" font-size="10" text-anchor="end" fill="#111" stroke="#111" stroke-width="0.1">HH</text><text transform="matrix(0.7324,0.6157,-1.5316,0.3185,279.97,153.00)" font-size="10" text-anchor="start" fill="#111" stroke="#111" stroke-width="0.1">HH</text><text transform="matrix(1.2934,-0.2285,0.4942,0.4438,240.11,130.94)" font-size="10" text-anchor="end" fill="#111" stroke="#111" stroke-width="0.1">HV</text><text transform="matrix(0.7915,0.5811,-1.4438,0.3003,307.00,147.37)" font-size="10" text-anchor="start" fill="#111" stroke="#111" stroke-width="0.1">HV</text><text transform="matrix(1.3463,-0.2535,0.5471,0.4914,250.51,140.28)" font-size="10" text-anchor="end" fill="#111" stroke="#111" stroke-width="0.1">VH</text><text transform="matrix(0.8428,0.5493,-1.3633,0.2835,332.51,142.07)" font-size="10" text-anchor="start" fill="#111" stroke="#111" stroke-width="0.1">VH</text><text transform="matrix(1.4033,-0.2829,0.6090,0.5470,262.06,150.65)" font-size="10" text-anchor="end" fill="#111" stroke="#111" stroke-width="0.1">VV</text><text transform="matrix(0.8874,0.5201,-1.2893,0.2681,356.62,137.06)" font-size="10" text-anchor="start" fill="#111" stroke="#111" stroke-width="0.1">VV</text><polygon points="303.11,96.08 308.87,99.25 308.88,98.80 303.11,95.64" fill="#32acf0" stroke="rgba(0,40,40,0.55)" stroke-width="0.45" stroke-linejoin="round"/><polygon points="308.87,99.25 319.40,97.62 319.41,97.17 308.88,98.80" fill="#2b84c4" stroke="rgba(0,40,40,0.55)" stroke-width="0.45" stroke-linejoin="round"/><polygon points="303.11,95.64 313.48,94.08 319.41,97.17 308.88,98.80" fill="#3d9ad8" stroke="rgba(0,40,40,0.55)" stroke-width="0.45" stroke-linejoin="round"/><polygon points="281.63,99.31 287.05,102.63 287.05,102.02 281.62,98.71" fill="#2496d8" stroke="rgba(0,40,40,0.55)" stroke-width="0.45" stroke-linejoin="round"/><polygon points="287.05,102.63 298.09,100.92 298.09,100.31 287.05,102.02" fill="#0c2c48" stroke="rgba(0,40,40,0.55)" stroke-width="0.45" stroke-linejoin="round"/><polygon points="281.62,98.71 292.49,97.08 298.09,100.31 287.05,102.02" fill="#113b5e" stroke="rgba(0,40,40,0.55)" stroke-width="0.45" stroke-linejoin="round"/><polygon points="314.90,102.56 321.20,106.03 321.21,105.55 314.90,102.10" fill="#32acf0" stroke="rgba(0,40,40,0.55)" stroke-width="0.45" stroke-linejoin="round"/><polygon points="321.20,106.03 332.06,104.24 332.07,103.77 321.21,105.55" fill="#2b84c4" stroke="rgba(0,40,40,0.55)" stroke-width="0.45" stroke-linejoin="round"/><polygon points="314.90,102.10 325.60,100.40 332.07,103.77 321.21,105.55" fill="#3d9ad8" stroke="rgba(0,40,40,0.55)" stroke-width="0.45" stroke-linejoin="round"/><polygon points="259.11,102.70 264.15,106.18 264.13,105.55 259.10,102.08" fill="#2496d8" stroke="rgba(0,40,40,0.55)" stroke-width="0.45" stroke-linejoin="round"/><polygon points="264.15,106.18 275.74,104.38 275.73,103.76 264.13,105.55" fill="#0c2c48" stroke="rgba(0,40,40,0.55)" stroke-width="0.45" stroke-linejoin="round"/><polygon points="259.10,102.08 270.50,100.38 275.73,103.76 264.13,105.55" fill="#113b5e" stroke="rgba(0,40,40,0.55)" stroke-width="0.45" stroke-linejoin="round"/><polygon points="292.72,106.10 298.66,109.74 298.81,76.06 292.74,73.14" fill="url(#g9)" stroke="rgba(0,40,40,0.55)" stroke-width="0.45" stroke-linejoin="round"/><polygon points="298.66,109.74 310.07,107.86 310.46,74.57 298.81,76.06" fill="url(#g10)" stroke="rgba(0,40,40,0.55)" stroke-width="0.45" stroke-linejoin="round"/><polygon points="292.74,73.14 304.20,71.72 310.46,74.57 298.81,76.06" fill="#35d199" stroke="rgba(0,40,40,0.55)" stroke-width="0.45" stroke-linejoin="round"/><line x1="292.74" y1="65.71" x2="304.25" y2="64.38" stroke="#222" stroke-width="0.55"/><line x1="304.25" y1="64.38" x2="310.55" y2="67.07" stroke="#222" stroke-width="0.55"/><line x1="310.55" y1="67.07" x2="298.84" y2="68.47" stroke="#222" stroke-width="0.55"/><line x1="298.84" y1="68.47" x2="292.74" y2="65.71" stroke="#222" stroke-width="0.55"/><line x1="292.74" y1="73.14" x2="292.74" y2="65.71" stroke="#222" stroke-width="0.55"/><line x1="304.20" y1="71.72" x2="304.25" y2="64.38" stroke="#222" stroke-width="0.55"/><line x1="310.46" y1="74.57" x2="310.55" y2="67.07" stroke="#222" stroke-width="0.55"/><line x1="298.81" y1="76.06" x2="298.84" y2="68.47" stroke="#222" stroke-width="0.55"/><polygon points="235.47,106.26 240.07,109.91 240.02,108.30 235.41,104.68" fill="#32acf0" stroke="rgba(0,40,40,0.55)" stroke-width="0.45" stroke-linejoin="round"/><polygon points="240.07,109.91 252.26,108.02 252.22,106.43 240.02,108.30" fill="#2b84c4" stroke="rgba(0,40,40,0.55)" stroke-width="0.45" stroke-linejoin="round"/><polygon points="235.41,104.68 247.39,102.90 252.22,106.43 240.02,108.30" fill="#3b92d2" stroke="rgba(0,40,40,0.55)" stroke-width="0.45" stroke-linejoin="round"/><polygon points="327.80,109.65 334.72,113.45 334.73,112.96 327.81,109.17" fill="#32acf0" stroke="rgba(0,40,40,0.55)" stroke-width="0.45" stroke-linejoin="round"/><polygon points="334.72,113.45 345.91,111.48 345.93,111.00 334.73,112.96" fill="#2b84c4" stroke="rgba(0,40,40,0.55)" stroke-width="0.45" stroke-linejoin="round"/><polygon points="327.81,109.17 338.84,107.30 345.93,111.00 334.73,112.96" fill="#3d9ad8" stroke="rgba(0,40,40,0.55)" stroke-width="0.45" stroke-linejoin="round"/><polygon points="269.42,109.82 274.95,113.64 274.57,80.02 268.93,76.93" fill="url(#g11)" stroke="rgba(0,40,40,0.55)" stroke-width="0.45" stroke-linejoin="round"/><polygon points="274.95,113.64 286.96,111.67 286.85,78.44 274.57,80.02" fill="url(#g12)" stroke="rgba(0,40,40,0.55)" stroke-width="0.45" stroke-linejoin="round"/><polygon points="268.93,76.93 280.99,75.42 286.85,78.44 274.57,80.02" fill="#34d19a" stroke="rgba(0,40,40,0.55)" stroke-width="0.45" stroke-linejoin="round"/><line x1="268.81" y1="68.48" x2="280.93" y2="67.08" stroke="#222" stroke-width="0.55"/><line x1="280.93" y1="67.08" x2="286.82" y2="69.90" stroke="#222" stroke-width="0.55"/><line x1="286.82" y1="69.90" x2="274.48" y2="71.38" stroke="#222" stroke-width="0.55"/><line x1="274.48" y1="71.38" x2="268.81" y2="68.48" stroke="#222" stroke-width="0.55"/><line x1="268.93" y1="76.93" x2="268.81" y2="68.48" stroke="#222" stroke-width="0.55"/><line x1="280.99" y1="75.42" x2="280.93" y2="67.08" stroke="#222" stroke-width="0.55"/><line x1="286.85" y1="78.44" x2="286.82" y2="69.90" stroke="#222" stroke-width="0.55"/><line x1="274.57" y1="80.02" x2="274.48" y2="71.38" stroke="#222" stroke-width="0.55"/><polygon points="304.89,113.55 311.42,117.55 312.03,69.95 305.28,67.01" fill="url(#g13)" stroke="rgba(0,40,40,0.55)" stroke-width="0.45" stroke-linejoin="round"/><polygon points="311.42,117.55 323.22,115.47 324.18,68.45 312.03,69.95" fill="url(#g14)" stroke="rgba(0,40,40,0.55)" stroke-width="0.45" stroke-linejoin="round"/><polygon points="305.28,67.01 317.22,65.59 324.18,68.45 312.03,69.95" fill="#3ad190" stroke="rgba(0,40,40,0.55)" stroke-width="0.45" stroke-linejoin="round"/><polygon points="244.90,113.74 249.97,117.76 249.95,117.08 244.88,113.08" fill="#2496d8" stroke="rgba(0,40,40,0.55)" stroke-width="0.45" stroke-linejoin="round"/><polygon points="249.97,117.76 262.63,115.67 262.61,115.01 249.95,117.08" fill="#0c2c48" stroke="rgba(0,40,40,0.55)" stroke-width="0.45" stroke-linejoin="round"/><polygon points="244.88,113.08 257.30,111.11 262.61,115.01 249.95,117.08" fill="#113b5e" stroke="rgba(0,40,40,0.55)" stroke-width="0.45" stroke-linejoin="round"/><polygon points="341.97,117.44 349.60,121.63 349.67,119.92 342.03,115.76" fill="#32acf0" stroke="rgba(0,40,40,0.55)" stroke-width="0.45" stroke-linejoin="round"/><polygon points="349.60,121.63 361.16,119.46 361.24,117.76 349.67,119.92" fill="#2b84c4" stroke="rgba(0,40,40,0.55)" stroke-width="0.45" stroke-linejoin="round"/><polygon points="342.03,115.76 353.42,113.72 361.24,117.76 349.67,119.92" fill="#3b92d2" stroke="rgba(0,40,40,0.55)" stroke-width="0.45" stroke-linejoin="round"/><polygon points="280.76,117.65 286.86,121.86 286.73,85.78 280.49,82.38" fill="url(#g15)" stroke="rgba(0,40,40,0.55)" stroke-width="0.45" stroke-linejoin="round"/><polygon points="286.86,121.86 299.31,119.68 299.47,84.04 286.73,85.78" fill="url(#g16)" stroke="rgba(0,40,40,0.55)" stroke-width="0.45" stroke-linejoin="round"/><polygon points="280.49,82.38 293.00,80.73 299.47,84.04 286.73,85.78" fill="#35d199" stroke="rgba(0,40,40,0.55)" stroke-width="0.45" stroke-linejoin="round"/><line x1="280.43" y1="74.42" x2="293.01" y2="72.87" stroke="#222" stroke-width="0.55"/><line x1="293.01" y1="72.87" x2="299.51" y2="75.99" stroke="#222" stroke-width="0.55"/><line x1="299.51" y1="75.99" x2="286.70" y2="77.63" stroke="#222" stroke-width="0.55"/><line x1="286.70" y1="77.63" x2="280.43" y2="74.42" stroke="#222" stroke-width="0.55"/><line x1="280.49" y1="82.38" x2="280.43" y2="74.42" stroke="#222" stroke-width="0.55"/><line x1="293.00" y1="80.73" x2="293.01" y2="72.87" stroke="#222" stroke-width="0.55"/><line x1="299.47" y1="84.04" x2="299.51" y2="75.99" stroke="#222" stroke-width="0.55"/><line x1="286.73" y1="85.78" x2="286.70" y2="77.63" stroke="#222" stroke-width="0.55"/><polygon points="318.29,121.75 325.51,126.17 325.52,125.64 318.30,121.23" fill="#32acf0" stroke="rgba(0,40,40,0.55)" stroke-width="0.45" stroke-linejoin="round"/><polygon points="325.51,126.17 337.72,123.87 337.74,123.35 325.52,125.64" fill="#2b84c4" stroke="rgba(0,40,40,0.55)" stroke-width="0.45" stroke-linejoin="round"/><polygon points="318.30,121.23 330.30,119.06 337.74,123.35 325.52,125.64" fill="#3d9ad8" stroke="rgba(0,40,40,0.55)" stroke-width="0.45" stroke-linejoin="round"/><polygon points="255.30,121.98 260.91,126.43 260.89,125.72 255.28,121.29" fill="#2496d8" stroke="rgba(0,40,40,0.55)" stroke-width="0.45" stroke-linejoin="round"/><polygon points="260.91,126.43 274.06,124.11 274.05,123.42 260.89,125.72" fill="#0c2c48" stroke="rgba(0,40,40,0.55)" stroke-width="0.45" stroke-linejoin="round"/><polygon points="255.28,121.29 268.19,119.11 274.05,123.42 260.89,125.72" fill="#113b5e" stroke="rgba(0,40,40,0.55)" stroke-width="0.45" stroke-linejoin="round"/><polygon points="293.27,126.30 300.04,130.97 300.04,130.43 293.27,125.77" fill="#32acf0" stroke="rgba(0,40,40,0.55)" stroke-width="0.45" stroke-linejoin="round"/><polygon points="300.04,130.97 312.95,128.53 312.96,128.00 300.04,130.43" fill="#2b84c4" stroke="rgba(0,40,40,0.55)" stroke-width="0.45" stroke-linejoin="round"/><polygon points="293.27,125.77 305.96,123.47 312.96,128.00 300.04,130.43" fill="#3d9ad8" stroke="rgba(0,40,40,0.55)" stroke-width="0.45" stroke-linejoin="round"/><polygon points="266.81,131.11 273.05,136.05 273.04,135.50 266.80,130.57" fill="#32acf0" stroke="rgba(0,40,40,0.55)" stroke-width="0.45" stroke-linejoin="round"/><polygon points="273.05,136.05 286.74,133.47 286.74,132.92 273.04,135.50" fill="#2b84c4" stroke="rgba(0,40,40,0.55)" stroke-width="0.45" stroke-linejoin="round"/><polygon points="266.80,130.57 280.23,128.13 286.74,132.92 273.04,135.50" fill="#3d9ad8" stroke="rgba(0,40,40,0.55)" stroke-width="0.45" stroke-linejoin="round"/><line x1="424.49" y1="23.77" x2="516.16" y2="16.88" stroke="#c8c8c8" stroke-width="0.70"/><line x1="516.16" y1="16.88" x2="562.64" y2="46.28" stroke="#c8c8c8" stroke-width="0.70"/><line x1="516.16" y1="16.88" x2="510.65" y2="87.50" stroke="#c8c8c8" stroke-width="0.70"/><line x1="562.64" y1="46.28" x2="551.29" y2="127.11" stroke="#c8c8c8" stroke-width="0.70"/><line x1="427.14" y1="98.84" x2="510.65" y2="87.50" stroke="#c8c8c8" stroke-width="0.70"/><line x1="510.65" y1="87.50" x2="551.29" y2="127.11" stroke="#c8c8c8" stroke-width="0.70"/><line x1="424.49" y1="23.77" x2="427.14" y2="98.84" stroke="#888" stroke-width="0.80"/><line x1="424.49" y1="23.77" x2="426.95" y2="23.58" stroke="#888" stroke-width="0.7"/><text x="421.99" y="30.77" font-size="15.2" text-anchor="end" fill="#111">0.50</text><line x1="425.56" y1="54.07" x2="427.93" y2="53.83" stroke="#888" stroke-width="0.7"/><text x="423.06" y="61.07" font-size="14.6" text-anchor="end" fill="#111">0.25</text><line x1="426.55" y1="82.16" x2="428.84" y2="81.88" stroke="#888" stroke-width="0.7"/><text x="424.05" y="89.16" font-size="14.0" text-anchor="end" fill="#111">0.00</text><line x1="427.14" y1="98.84" x2="454.28" y2="144.19" stroke="#444" stroke-width="0.70"/><line x1="454.28" y1="144.19" x2="551.29" y2="127.11" stroke="#444" stroke-width="0.70"/><line x1="428.57" y1="101.22" x2="430.37" y2="100.97" stroke="#333" stroke-width="0.60"/><line x1="460.84" y1="143.04" x2="460.16" y2="141.96" stroke="#333" stroke-width="0.60"/><line x1="431.51" y1="106.13" x2="433.35" y2="105.87" stroke="#333" stroke-width="0.60"/><line x1="473.73" y1="140.77" x2="473.01" y2="139.71" stroke="#333" stroke-width="0.60"/><line x1="434.58" y1="111.27" x2="436.46" y2="110.99" stroke="#333" stroke-width="0.60"/><line x1="486.36" y1="138.54" x2="485.60" y2="137.51" stroke="#333" stroke-width="0.60"/><line x1="437.79" y1="116.64" x2="439.71" y2="116.35" stroke="#333" stroke-width="0.60"/><line x1="498.72" y1="136.37" x2="497.92" y2="135.35" stroke="#333" stroke-width="0.60"/><line x1="441.16" y1="122.26" x2="443.11" y2="121.95" stroke="#333" stroke-width="0.60"/><line x1="510.82" y1="134.24" x2="509.98" y2="133.24" stroke="#333" stroke-width="0.60"/><line x1="444.68" y1="128.15" x2="446.68" y2="127.83" stroke="#333" stroke-width="0.60"/><line x1="522.68" y1="132.15" x2="521.80" y2="131.17" stroke="#333" stroke-width="0.60"/><line x1="448.38" y1="134.33" x2="450.42" y2="133.99" stroke="#333" stroke-width="0.60"/><line x1="534.30" y1="130.10" x2="533.38" y2="129.14" stroke="#333" stroke-width="0.60"/><line x1="452.27" y1="140.82" x2="454.35" y2="140.46" stroke="#333" stroke-width="0.60"/><line x1="545.68" y1="128.10" x2="544.74" y2="127.15" stroke="#333" stroke-width="0.60"/><text transform="matrix(1.4446,-0.2082,0.3760,0.6369,431.13,108.67)" font-size="10" text-anchor="end" fill="#111" stroke="#111" stroke-width="0.1">AHV</text><text transform="matrix(0.6037,0.9210,-1.7613,0.3128,469.07,143.46)" font-size="10" text-anchor="start" fill="#111" stroke="#111" stroke-width="0.1">AHV</text><text transform="matrix(1.5037,-0.2309,0.4116,0.6971,437.47,119.42)" font-size="10" text-anchor="end" fill="#111" stroke="#111" stroke-width="0.1">AVV</text><text transform="matrix(0.6765,0.8864,-1.6878,0.2998,494.42,138.96)" font-size="10" text-anchor="start" fill="#111" stroke="#111" stroke-width="0.1">AVV</text><text transform="matrix(1.5677,-0.2572,0.4524,0.7664,444.43,131.20)" font-size="10" text-anchor="end" fill="#111" stroke="#111" stroke-width="0.1">BHV</text><text transform="matrix(0.7428,0.8538,-1.6188,0.2875,518.73,134.64)" font-size="10" text-anchor="start" fill="#111" stroke="#111" stroke-width="0.1">BHV</text><text transform="matrix(1.6373,-0.2877,0.4997,0.8465,452.10,144.20)" font-size="10" text-anchor="end" fill="#111" stroke="#111" stroke-width="0.1">BVV</text><text transform="matrix(0.8033,0.8231,-1.5539,0.2760,542.05,130.50)" font-size="10" text-anchor="start" fill="#111" stroke="#111" stroke-width="0.1">BVV</text><polygon points="505.45,73.65 507.63,75.68 507.66,75.26 505.48,73.23" fill="#32acf0" stroke="rgba(0,40,40,0.55)" stroke-width="0.55" stroke-linejoin="round"/><polygon points="507.63,75.68 512.70,75.05 512.74,74.63 507.66,75.26" fill="#2b84c4" stroke="rgba(0,40,40,0.55)" stroke-width="0.55" stroke-linejoin="round"/><polygon points="505.48,73.23 510.51,72.62 512.74,74.63 507.66,75.26" fill="#40a2d8" stroke="rgba(0,40,40,0.55)" stroke-width="0.55" stroke-linejoin="round"/><polygon points="495.26,74.90 497.35,76.97 497.38,76.55 495.28,74.49" fill="#32acf0" stroke="rgba(0,40,40,0.55)" stroke-width="0.55" stroke-linejoin="round"/><polygon points="497.35,76.97 502.51,76.32 502.54,75.90 497.38,76.55" fill="#2b84c4" stroke="rgba(0,40,40,0.55)" stroke-width="0.55" stroke-linejoin="round"/><polygon points="495.28,74.49 500.40,73.86 502.54,75.90 497.38,76.55" fill="#40a2d8" stroke="rgba(0,40,40,0.55)" stroke-width="0.55" stroke-linejoin="round"/><polygon points="484.88,76.18 486.89,78.28 486.91,77.86 484.90,75.76" fill="#32acf0" stroke="rgba(0,40,40,0.55)" stroke-width="0.55" stroke-linejoin="round"/><polygon points="486.89,78.28 492.14,77.62 492.16,77.20 486.91,77.86" fill="#2b84c4" stroke="rgba(0,40,40,0.55)" stroke-width="0.55" stroke-linejoin="round"/><polygon points="484.90,75.76 490.12,75.12 492.16,77.20 486.91,77.86" fill="#40a2d8" stroke="rgba(0,40,40,0.55)" stroke-width="0.55" stroke-linejoin="round"/><polygon points="509.86,77.76 512.13,79.88 512.16,79.45 509.89,77.34" fill="#32acf0" stroke="rgba(0,40,40,0.55)" stroke-width="0.55" stroke-linejoin="round"/><polygon points="512.13,79.88 517.29,79.21 517.32,78.79 512.16,79.45" fill="#2b84c4" stroke="rgba(0,40,40,0.55)" stroke-width="0.55" stroke-linejoin="round"/><polygon points="509.89,77.34 515.01,76.69 517.32,78.79 512.16,79.45" fill="#40a2d8" stroke="rgba(0,40,40,0.55)" stroke-width="0.55" stroke-linejoin="round"/><polygon points="474.33,77.48 476.23,79.61 476.25,79.19 474.34,77.06" fill="#32acf0" stroke="rgba(0,40,40,0.55)" stroke-width="0.55" stroke-linejoin="round"/><polygon points="476.23,79.61 481.58,78.94 481.60,78.52 476.25,79.19" fill="#2b84c4" stroke="rgba(0,40,40,0.55)" stroke-width="0.55" stroke-linejoin="round"/><polygon points="474.34,77.06 479.64,76.41 481.60,78.52 476.25,79.19" fill="#40a2d8" stroke="rgba(0,40,40,0.55)" stroke-width="0.55" stroke-linejoin="round"/><polygon points="499.49,79.08 501.67,81.23 503.17,58.21 500.91,56.24" fill="url(#g17)" stroke="rgba(0,40,40,0.55)" stroke-width="0.55" stroke-linejoin="round"/><polygon points="501.67,81.23 506.92,80.55 508.58,57.61 503.17,58.21" fill="url(#g18)" stroke="rgba(0,40,40,0.55)" stroke-width="0.55" stroke-linejoin="round"/><polygon points="500.91,56.24 506.27,55.66 508.58,57.61 503.17,58.21" fill="#34cf9c" stroke="rgba(0,40,40,0.55)" stroke-width="0.55" stroke-linejoin="round"/><line x1="501.19" y1="51.73" x2="506.58" y2="51.17" stroke="#222" stroke-width="0.55"/><line x1="506.58" y1="51.17" x2="508.91" y2="53.08" stroke="#222" stroke-width="0.55"/><line x1="508.91" y1="53.08" x2="503.47" y2="53.66" stroke="#222" stroke-width="0.55"/><line x1="503.47" y1="53.66" x2="501.19" y2="51.73" stroke="#222" stroke-width="0.55"/><line x1="500.91" y1="56.24" x2="501.19" y2="51.73" stroke="#222" stroke-width="0.55"/><line x1="506.27" y1="55.66" x2="506.58" y2="51.17" stroke="#222" stroke-width="0.55"/><line x1="508.58" y1="57.61" x2="508.91" y2="53.08" stroke="#222" stroke-width="0.55"/><line x1="503.17" y1="58.21" x2="503.47" y2="53.66" stroke="#222" stroke-width="0.55"/><polygon points="463.58,78.81 465.39,80.97 465.40,80.54 463.58,78.38" fill="#2496d8" stroke="rgba(0,40,40,0.55)" stroke-width="0.55" stroke-linejoin="round"/><polygon points="465.39,80.97 470.84,80.29 470.85,79.86 465.40,80.54" fill="#0c2c48" stroke="rgba(0,40,40,0.55)" stroke-width="0.55" stroke-linejoin="round"/><polygon points="463.58,78.38 468.99,77.72 470.85,79.86 465.40,80.54" fill="#14425f" stroke="rgba(0,40,40,0.55)" stroke-width="0.55" stroke-linejoin="round"/><polygon points="488.93,80.42 491.02,82.61 492.35,56.55 490.18,54.58" fill="url(#g19)" stroke="rgba(0,40,40,0.55)" stroke-width="0.55" stroke-linejoin="round"/><polygon points="491.02,82.61 496.37,81.91 497.88,55.96 492.35,56.55" fill="url(#g20)" stroke="rgba(0,40,40,0.55)" stroke-width="0.55" stroke-linejoin="round"/><polygon points="490.18,54.58 495.66,54.00 497.88,55.96 492.35,56.55" fill="#37d094" stroke="rgba(0,40,40,0.55)" stroke-width="0.55" stroke-linejoin="round"/><line x1="490.26" y1="52.87" x2="495.75" y2="52.29" stroke="#222" stroke-width="0.55"/><line x1="495.75" y1="52.29" x2="497.98" y2="54.24" stroke="#222" stroke-width="0.55"/><line x1="497.98" y1="54.24" x2="492.44" y2="54.83" stroke="#222" stroke-width="0.55"/><line x1="492.44" y1="54.83" x2="490.26" y2="52.87" stroke="#222" stroke-width="0.55"/><line x1="490.18" y1="54.58" x2="490.26" y2="52.87" stroke="#222" stroke-width="0.55"/><line x1="495.66" y1="54.00" x2="495.75" y2="52.29" stroke="#222" stroke-width="0.55"/><line x1="497.88" y1="55.96" x2="497.98" y2="54.24" stroke="#222" stroke-width="0.55"/><line x1="492.35" y1="56.55" x2="492.44" y2="54.83" stroke="#222" stroke-width="0.55"/><polygon points="514.45,82.04 516.82,84.25 516.85,83.82 514.48,81.61" fill="#32acf0" stroke="rgba(0,40,40,0.55)" stroke-width="0.55" stroke-linejoin="round"/><polygon points="516.82,84.25 522.06,83.55 522.10,83.12 516.85,83.82" fill="#2b84c4" stroke="rgba(0,40,40,0.55)" stroke-width="0.55" stroke-linejoin="round"/><polygon points="514.48,81.61 519.69,80.93 522.10,83.12 516.85,83.82" fill="#40a2d8" stroke="rgba(0,40,40,0.55)" stroke-width="0.55" stroke-linejoin="round"/><polygon points="452.64,80.16 454.34,82.35 454.35,81.92 452.63,79.73" fill="#32acf0" stroke="rgba(0,40,40,0.55)" stroke-width="0.55" stroke-linejoin="round"/><polygon points="454.34,82.35 459.89,81.66 459.90,81.23 454.35,81.92" fill="#2b84c4" stroke="rgba(0,40,40,0.55)" stroke-width="0.55" stroke-linejoin="round"/><polygon points="452.63,79.73 458.13,79.05 459.90,81.23 454.35,81.92" fill="#40a2d8" stroke="rgba(0,40,40,0.55)" stroke-width="0.55" stroke-linejoin="round"/><polygon points="478.18,81.79 480.18,84.01 480.19,83.58 478.20,81.36" fill="#2496d8" stroke="rgba(0,40,40,0.55)" stroke-width="0.55" stroke-linejoin="round"/><polygon points="480.18,84.01 485.62,83.30 485.64,82.87 480.19,83.58" fill="#0c2c48" stroke="rgba(0,40,40,0.55)" stroke-width="0.55" stroke-linejoin="round"/><polygon points="478.20,81.36 483.60,80.67 485.64,82.87 480.19,83.58" fill="#14425f" stroke="rgba(0,40,40,0.55)" stroke-width="0.55" stroke-linejoin="round"/><polygon points="503.90,83.43 506.17,85.67 508.14,58.23 505.76,56.21" fill="url(#g21)" stroke="rgba(0,40,40,0.55)" stroke-width="0.55" stroke-linejoin="round"/><polygon points="506.17,85.67 511.52,84.96 513.68,57.62 508.14,58.23" fill="url(#g22)" stroke="rgba(0,40,40,0.55)" stroke-width="0.55" stroke-linejoin="round"/><polygon points="505.76,56.21 511.24,55.62 513.68,57.62 508.14,58.23" fill="#39d191" stroke="rgba(0,40,40,0.55)" stroke-width="0.55" stroke-linejoin="round"/><line x1="505.80" y1="55.63" x2="511.29" y2="55.04" stroke="#222" stroke-width="0.55"/><line x1="511.29" y1="55.04" x2="513.72" y2="57.04" stroke="#222" stroke-width="0.55"/><line x1="513.72" y1="57.04" x2="508.18" y2="57.65" stroke="#222" stroke-width="0.55"/><line x1="508.18" y1="57.65" x2="505.80" y2="55.63" stroke="#222" stroke-width="0.55"/><line x1="505.76" y1="56.21" x2="505.80" y2="55.63" stroke="#222" stroke-width="0.55"/><line x1="511.24" y1="55.62" x2="511.29" y2="55.04" stroke="#222" stroke-width="0.55"/><line x1="513.68" y1="57.62" x2="513.72" y2="57.04" stroke="#222" stroke-width="0.55"/><line x1="508.14" y1="58.23" x2="508.18" y2="57.65" stroke="#222" stroke-width="0.55"/><polygon points="441.49,81.53 443.10,83.76 443.09,83.33 441.49,81.10" fill="#32acf0" stroke="rgba(0,40,40,0.55)" stroke-width="0.55" stroke-linejoin="round"/><polygon points="443.10,83.76 448.75,83.05 448.74,82.62 443.09,83.33" fill="#2b84c4" stroke="rgba(0,40,40,0.55)" stroke-width="0.55" stroke-linejoin="round"/><polygon points="441.49,81.10 447.09,80.41 448.74,82.62 443.09,83.33" fill="#40a2d8" stroke="rgba(0,40,40,0.55)" stroke-width="0.55" stroke-linejoin="round"/><polygon points="467.24,83.18 469.13,85.44 469.14,85.00 467.25,82.75" fill="#32acf0" stroke="rgba(0,40,40,0.55)" stroke-width="0.55" stroke-linejoin="round"/><polygon points="469.13,85.44 474.68,84.72 474.69,84.29 469.14,85.00" fill="#2b84c4" stroke="rgba(0,40,40,0.55)" stroke-width="0.55" stroke-linejoin="round"/><polygon points="467.25,82.75 472.75,82.05 474.69,84.29 469.14,85.00" fill="#40a2d8" stroke="rgba(0,40,40,0.55)" stroke-width="0.55" stroke-linejoin="round"/><polygon points="493.15,84.84 495.33,87.12 496.55,65.86 494.30,63.75" fill="url(#g23)" stroke="rgba(0,40,40,0.55)" stroke-width="0.55" stroke-linejoin="round"/><polygon points="495.33,87.12 500.78,86.39 502.15,65.21 496.55,65.86" fill="url(#g24)" stroke="rgba(0,40,40,0.55)" stroke-width="0.55" stroke-linejoin="round"/><polygon points="494.30,63.75 499.84,63.12 502.15,65.21 496.55,65.86" fill="#31cca3" stroke="rgba(0,40,40,0.55)" stroke-width="0.55" stroke-linejoin="round"/><line x1="494.67" y1="56.83" x2="500.26" y2="56.23" stroke="#222" stroke-width="0.55"/><line x1="500.26" y1="56.23" x2="502.60" y2="58.26" stroke="#222" stroke-width="0.55"/><line x1="502.60" y1="58.26" x2="496.95" y2="58.88" stroke="#222" stroke-width="0.55"/><line x1="496.95" y1="58.88" x2="494.67" y2="56.83" stroke="#222" stroke-width="0.55"/><line x1="494.30" y1="63.75" x2="494.67" y2="56.83" stroke="#222" stroke-width="0.55"/><line x1="499.84" y1="63.12" x2="500.26" y2="56.23" stroke="#222" stroke-width="0.55"/><line x1="502.15" y1="65.21" x2="502.60" y2="58.26" stroke="#222" stroke-width="0.55"/><line x1="496.55" y1="65.86" x2="496.95" y2="58.88" stroke="#222" stroke-width="0.55"/><polygon points="430.14,82.93 431.64,85.20 431.63,84.76 430.13,82.49" fill="#32acf0" stroke="rgba(0,40,40,0.55)" stroke-width="0.55" stroke-linejoin="round"/><polygon points="431.64,85.20 437.39,84.48 437.38,84.04 431.63,84.76" fill="#2b84c4" stroke="rgba(0,40,40,0.55)" stroke-width="0.55" stroke-linejoin="round"/><polygon points="430.13,82.49 435.83,81.79 437.38,84.04 431.63,84.76" fill="#40a2d8" stroke="rgba(0,40,40,0.55)" stroke-width="0.55" stroke-linejoin="round"/><polygon points="519.24,86.51 521.71,88.82 521.75,88.38 519.28,86.08" fill="#32acf0" stroke="rgba(0,40,40,0.55)" stroke-width="0.55" stroke-linejoin="round"/><polygon points="521.71,88.82 527.05,88.08 527.09,87.65 521.75,88.38" fill="#2b84c4" stroke="rgba(0,40,40,0.55)" stroke-width="0.55" stroke-linejoin="round"/><polygon points="519.28,86.08 524.57,85.36 527.09,87.65 521.75,88.38" fill="#40a2d8" stroke="rgba(0,40,40,0.55)" stroke-width="0.55" stroke-linejoin="round"/><polygon points="456.09,84.60 457.88,86.89 458.04,63.16 456.19,61.06" fill="url(#g25)" stroke="rgba(0,40,40,0.55)" stroke-width="0.55" stroke-linejoin="round"/><polygon points="457.88,86.89 463.53,86.16 463.87,62.52 458.04,63.16" fill="url(#g26)" stroke="rgba(0,40,40,0.55)" stroke-width="0.55" stroke-linejoin="round"/><polygon points="456.19,61.06 461.97,60.44 463.87,62.52 458.04,63.16" fill="#34cf9c" stroke="rgba(0,40,40,0.55)" stroke-width="0.55" stroke-linejoin="round"/><line x1="456.21" y1="56.41" x2="462.02" y2="55.80" stroke="#222" stroke-width="0.55"/><line x1="462.02" y1="55.80" x2="463.94" y2="57.85" stroke="#222" stroke-width="0.55"/><line x1="463.94" y1="57.85" x2="458.07" y2="58.47" stroke="#222" stroke-width="0.55"/><line x1="458.07" y1="58.47" x2="456.21" y2="56.41" stroke="#222" stroke-width="0.55"/><line x1="456.19" y1="61.06" x2="456.21" y2="56.41" stroke="#222" stroke-width="0.55"/><line x1="461.97" y1="60.44" x2="462.02" y2="55.80" stroke="#222" stroke-width="0.55"/><line x1="463.87" y1="62.52" x2="463.94" y2="57.85" stroke="#222" stroke-width="0.55"/><line x1="458.04" y1="63.16" x2="458.07" y2="58.47" stroke="#222" stroke-width="0.55"/><polygon points="482.21,86.28 484.29,88.60 484.31,88.16 482.23,85.84" fill="#2496d8" stroke="rgba(0,40,40,0.55)" stroke-width="0.55" stroke-linejoin="round"/><polygon points="484.29,88.60 489.84,87.86 489.86,87.42 484.31,88.16" fill="#0c2c48" stroke="rgba(0,40,40,0.55)" stroke-width="0.55" stroke-linejoin="round"/><polygon points="482.23,85.84 487.73,85.12 489.86,87.42 484.31,88.16" fill="#14425f" stroke="rgba(0,40,40,0.55)" stroke-width="0.55" stroke-linejoin="round"/><polygon points="508.50,87.97 510.88,90.31 510.91,89.88 508.53,87.53" fill="#32acf0" stroke="rgba(0,40,40,0.55)" stroke-width="0.55" stroke-linejoin="round"/><polygon points="510.88,90.31 516.32,89.56 516.36,89.13 510.91,89.88" fill="#2b84c4" stroke="rgba(0,40,40,0.55)" stroke-width="0.55" stroke-linejoin="round"/><polygon points="508.53,87.53 513.93,86.80 516.36,89.13 510.91,89.88" fill="#40a2d8" stroke="rgba(0,40,40,0.55)" stroke-width="0.55" stroke-linejoin="round"/><polygon points="444.74,86.04 446.41,88.37 446.16,59.73 444.42,57.63" fill="url(#g27)" stroke="rgba(0,40,40,0.55)" stroke-width="0.55" stroke-linejoin="round"/><polygon points="446.41,88.37 452.17,87.63 452.14,59.09 446.16,59.73" fill="url(#g28)" stroke="rgba(0,40,40,0.55)" stroke-width="0.55" stroke-linejoin="round"/><polygon points="444.42,57.63 450.35,57.02 452.14,59.09 446.16,59.73" fill="#3ad190" stroke="rgba(0,40,40,0.55)" stroke-width="0.55" stroke-linejoin="round"/><polygon points="471.06,87.74 473.04,90.10 473.05,89.66 471.07,87.30" fill="#2496d8" stroke="rgba(0,40,40,0.55)" stroke-width="0.55" stroke-linejoin="round"/><polygon points="473.04,90.10 478.69,89.35 478.71,88.91 473.05,89.66" fill="#0c2c48" stroke="rgba(0,40,40,0.55)" stroke-width="0.55" stroke-linejoin="round"/><polygon points="471.07,87.30 476.68,86.57 478.71,88.91 473.05,89.66" fill="#14425f" stroke="rgba(0,40,40,0.55)" stroke-width="0.55" stroke-linejoin="round"/><polygon points="497.56,89.45 499.84,91.84 499.87,91.40 497.59,89.02" fill="#32acf0" stroke="rgba(0,40,40,0.55)" stroke-width="0.55" stroke-linejoin="round"/><polygon points="499.84,91.84 505.39,91.07 505.42,90.63 499.87,91.40" fill="#2b84c4" stroke="rgba(0,40,40,0.55)" stroke-width="0.55" stroke-linejoin="round"/><polygon points="497.59,89.02 503.09,88.27 505.42,90.63 499.87,91.40" fill="#40a2d8" stroke="rgba(0,40,40,0.55)" stroke-width="0.55" stroke-linejoin="round"/><polygon points="433.17,87.51 434.73,89.88 434.72,89.44 433.15,87.07" fill="#32acf0" stroke="rgba(0,40,40,0.55)" stroke-width="0.55" stroke-linejoin="round"/><polygon points="434.73,89.88 440.60,89.13 440.59,88.68 434.72,89.44" fill="#2b84c4" stroke="rgba(0,40,40,0.55)" stroke-width="0.55" stroke-linejoin="round"/><polygon points="433.15,87.07 438.97,86.34 440.59,88.68 434.72,89.44" fill="#40a2d8" stroke="rgba(0,40,40,0.55)" stroke-width="0.55" stroke-linejoin="round"/><polygon points="524.24,91.18 526.82,93.59 526.87,93.15 524.28,90.74" fill="#32acf0" stroke="rgba(0,40,40,0.55)" stroke-width="0.55" stroke-linejoin="round"/><polygon points="526.82,93.59 532.26,92.81 532.31,92.37 526.87,93.15" fill="#2b84c4" stroke="rgba(0,40,40,0.55)" stroke-width="0.55" stroke-linejoin="round"/><polygon points="524.28,90.74 529.67,89.98 532.31,92.37 526.87,93.15" fill="#40a2d8" stroke="rgba(0,40,40,0.55)" stroke-width="0.55" stroke-linejoin="round"/><polygon points="459.70,89.24 461.57,91.63 461.87,66.32 459.93,64.13" fill="url(#g29)" stroke="rgba(0,40,40,0.55)" stroke-width="0.55" stroke-linejoin="round"/><polygon points="461.57,91.63 467.33,90.86 467.82,65.65 461.87,66.32" fill="url(#g30)" stroke="rgba(0,40,40,0.55)" stroke-width="0.55" stroke-linejoin="round"/><polygon points="459.93,64.13 465.83,63.48 467.82,65.65 461.87,66.32" fill="#35cf99" stroke="rgba(0,40,40,0.55)" stroke-width="0.55" stroke-linejoin="round"/><line x1="459.97" y1="60.57" x2="465.89" y2="59.94" stroke="#222" stroke-width="0.55"/><line x1="465.89" y1="59.94" x2="467.89" y2="62.07" stroke="#222" stroke-width="0.55"/><line x1="467.89" y1="62.07" x2="461.91" y2="62.73" stroke="#222" stroke-width="0.55"/><line x1="461.91" y1="62.73" x2="459.97" y2="60.57" stroke="#222" stroke-width="0.55"/><line x1="459.93" y1="64.13" x2="459.97" y2="60.57" stroke="#222" stroke-width="0.55"/><line x1="465.83" y1="63.48" x2="465.89" y2="59.94" stroke="#222" stroke-width="0.55"/><line x1="467.82" y1="65.65" x2="467.89" y2="62.07" stroke="#222" stroke-width="0.55"/><line x1="461.87" y1="66.32" x2="461.91" y2="62.73" stroke="#222" stroke-width="0.55"/><polygon points="486.42,90.97 488.59,93.39 488.61,92.95 486.44,90.53" fill="#2496d8" stroke="rgba(0,40,40,0.55)" stroke-width="0.55" stroke-linejoin="round"/><polygon points="488.59,93.39 494.24,92.61 494.27,92.17 488.61,92.95" fill="#0c2c48" stroke="rgba(0,40,40,0.55)" stroke-width="0.55" stroke-linejoin="round"/><polygon points="486.44,90.53 492.04,89.77 494.27,92.17 488.61,92.95" fill="#14425f" stroke="rgba(0,40,40,0.55)" stroke-width="0.55" stroke-linejoin="round"/><polygon points="513.31,92.71 515.80,95.17 515.84,94.72 513.35,92.27" fill="#32acf0" stroke="rgba(0,40,40,0.55)" stroke-width="0.55" stroke-linejoin="round"/><polygon points="515.80,95.17 521.34,94.37 521.38,93.93 515.84,94.72" fill="#2b84c4" stroke="rgba(0,40,40,0.55)" stroke-width="0.55" stroke-linejoin="round"/><polygon points="513.35,92.27 518.84,91.50 521.38,93.93 515.84,94.72" fill="#40a2d8" stroke="rgba(0,40,40,0.55)" stroke-width="0.55" stroke-linejoin="round"/><polygon points="448.13,90.76 449.88,93.20 449.79,70.67 447.98,68.42" fill="url(#g31)" stroke="rgba(0,40,40,0.55)" stroke-width="0.55" stroke-linejoin="round"/><polygon points="449.88,93.20 455.75,92.41 455.84,69.97 449.79,70.67" fill="url(#g32)" stroke="rgba(0,40,40,0.55)" stroke-width="0.55" stroke-linejoin="round"/><polygon points="447.98,68.42 453.97,67.74 455.84,69.97 449.79,70.67" fill="#32cca1" stroke="rgba(0,40,40,0.55)" stroke-width="0.55" stroke-linejoin="round"/><line x1="447.94" y1="61.87" x2="453.98" y2="61.22" stroke="#222" stroke-width="0.55"/><line x1="453.98" y1="61.22" x2="455.86" y2="63.39" stroke="#222" stroke-width="0.55"/><line x1="455.86" y1="63.39" x2="449.76" y2="64.06" stroke="#222" stroke-width="0.55"/><line x1="449.76" y1="64.06" x2="447.94" y2="61.87" stroke="#222" stroke-width="0.55"/><line x1="447.98" y1="68.42" x2="447.94" y2="61.87" stroke="#222" stroke-width="0.55"/><line x1="453.97" y1="67.74" x2="453.98" y2="61.22" stroke="#222" stroke-width="0.55"/><line x1="455.84" y1="69.97" x2="455.86" y2="63.39" stroke="#222" stroke-width="0.55"/><line x1="449.79" y1="70.67" x2="449.76" y2="64.06" stroke="#222" stroke-width="0.55"/><polygon points="475.06,92.51 477.12,94.98 477.14,94.53 475.07,92.07" fill="#32acf0" stroke="rgba(0,40,40,0.55)" stroke-width="0.55" stroke-linejoin="round"/><polygon points="477.12,94.98 482.89,94.18 482.90,93.74 477.14,94.53" fill="#2b84c4" stroke="rgba(0,40,40,0.55)" stroke-width="0.55" stroke-linejoin="round"/><polygon points="475.07,92.07 480.78,91.29 482.90,93.74 477.14,94.53" fill="#40a2d8" stroke="rgba(0,40,40,0.55)" stroke-width="0.55" stroke-linejoin="round"/><polygon points="502.17,94.28 504.55,96.77 504.59,96.32 502.20,93.83" fill="#32acf0" stroke="rgba(0,40,40,0.55)" stroke-width="0.55" stroke-linejoin="round"/><polygon points="504.55,96.77 510.20,95.97 510.24,95.52 504.59,96.32" fill="#2b84c4" stroke="rgba(0,40,40,0.55)" stroke-width="0.55" stroke-linejoin="round"/><polygon points="502.20,93.83 507.80,93.05 510.24,95.52 504.59,96.32" fill="#40a2d8" stroke="rgba(0,40,40,0.55)" stroke-width="0.55" stroke-linejoin="round"/><polygon points="436.33,92.31 437.96,94.79 437.95,94.34 436.32,91.86" fill="#2496d8" stroke="rgba(0,40,40,0.55)" stroke-width="0.55" stroke-linejoin="round"/><polygon points="437.96,94.79 443.95,93.99 443.94,93.54 437.95,94.34" fill="#0c2c48" stroke="rgba(0,40,40,0.55)" stroke-width="0.55" stroke-linejoin="round"/><polygon points="436.32,91.86 442.25,91.08 443.94,93.54 437.95,94.34" fill="#14425f" stroke="rgba(0,40,40,0.55)" stroke-width="0.55" stroke-linejoin="round"/><polygon points="529.47,96.06 532.17,98.58 532.22,98.13 529.52,95.61" fill="#32acf0" stroke="rgba(0,40,40,0.55)" stroke-width="0.55" stroke-linejoin="round"/><polygon points="532.17,98.58 537.71,97.76 537.76,97.31 532.22,98.13" fill="#2b84c4" stroke="rgba(0,40,40,0.55)" stroke-width="0.55" stroke-linejoin="round"/><polygon points="529.52,95.61 535.00,94.82 537.76,97.31 532.22,98.13" fill="#40a2d8" stroke="rgba(0,40,40,0.55)" stroke-width="0.55" stroke-linejoin="round"/><polygon points="463.48,94.09 465.43,96.59 465.44,96.14 463.48,93.64" fill="#32acf0" stroke="rgba(0,40,40,0.55)" stroke-width="0.55" stroke-linejoin="round"/><polygon points="465.43,96.59 471.31,95.78 471.32,95.33 465.44,96.14" fill="#2b84c4" stroke="rgba(0,40,40,0.55)" stroke-width="0.55" stroke-linejoin="round"/><polygon points="463.48,93.64 469.31,92.85 471.32,95.33 465.44,96.14" fill="#40a2d8" stroke="rgba(0,40,40,0.55)" stroke-width="0.55" stroke-linejoin="round"/><polygon points="490.82,95.88 493.09,98.41 493.12,97.96 490.84,95.43" fill="#32acf0" stroke="rgba(0,40,40,0.55)" stroke-width="0.55" stroke-linejoin="round"/><polygon points="493.09,98.41 498.85,97.59 498.88,97.14 493.12,97.96" fill="#2b84c4" stroke="rgba(0,40,40,0.55)" stroke-width="0.55" stroke-linejoin="round"/><polygon points="490.84,95.43 496.55,94.63 498.88,97.14 493.12,97.96" fill="#40a2d8" stroke="rgba(0,40,40,0.55)" stroke-width="0.55" stroke-linejoin="round"/><polygon points="518.34,97.68 520.94,100.24 523.36,74.44 520.63,72.09" fill="url(#g33)" stroke="rgba(0,40,40,0.55)" stroke-width="0.55" stroke-linejoin="round"/><polygon points="520.94,100.24 526.59,99.41 529.19,73.71 523.36,74.44" fill="url(#g34)" stroke="rgba(0,40,40,0.55)" stroke-width="0.55" stroke-linejoin="round"/><polygon points="520.63,72.09 526.41,71.38 529.19,73.71 523.36,74.44" fill="#35cf99" stroke="rgba(0,40,40,0.55)" stroke-width="0.55" stroke-linejoin="round"/><line x1="520.96" y1="68.46" x2="526.76" y2="67.77" stroke="#222" stroke-width="0.55"/><line x1="526.76" y1="67.77" x2="529.55" y2="70.07" stroke="#222" stroke-width="0.55"/><line x1="529.55" y1="70.07" x2="523.70" y2="70.78" stroke="#222" stroke-width="0.55"/><line x1="523.70" y1="70.78" x2="520.96" y2="68.46" stroke="#222" stroke-width="0.55"/><line x1="520.63" y1="72.09" x2="520.96" y2="68.46" stroke="#222" stroke-width="0.55"/><line x1="526.41" y1="71.38" x2="526.76" y2="67.77" stroke="#222" stroke-width="0.55"/><line x1="529.19" y1="73.71" x2="529.55" y2="70.07" stroke="#222" stroke-width="0.55"/><line x1="523.36" y1="74.44" x2="523.70" y2="70.78" stroke="#222" stroke-width="0.55"/><polygon points="451.67,95.69 453.51,98.24 453.51,97.79 451.67,95.24" fill="#32acf0" stroke="rgba(0,40,40,0.55)" stroke-width="0.55" stroke-linejoin="round"/><polygon points="453.51,98.24 459.50,97.41 459.50,96.96 453.51,97.79" fill="#2b84c4" stroke="rgba(0,40,40,0.55)" stroke-width="0.55" stroke-linejoin="round"/><polygon points="451.67,95.24 457.61,94.43 459.50,96.96 453.51,97.79" fill="#40a2d8" stroke="rgba(0,40,40,0.55)" stroke-width="0.55" stroke-linejoin="round"/><polygon points="479.24,97.50 481.40,100.08 481.42,99.63 479.25,97.05" fill="#32acf0" stroke="rgba(0,40,40,0.55)" stroke-width="0.55" stroke-linejoin="round"/><polygon points="481.40,100.08 487.27,99.24 487.30,98.79 481.42,99.63" fill="#2b84c4" stroke="rgba(0,40,40,0.55)" stroke-width="0.55" stroke-linejoin="round"/><polygon points="479.25,97.05 485.07,96.23 487.30,98.79 481.42,99.63" fill="#40a2d8" stroke="rgba(0,40,40,0.55)" stroke-width="0.55" stroke-linejoin="round"/><polygon points="506.99,99.33 509.49,101.94 511.42,77.16 508.82,74.75" fill="url(#g35)" stroke="rgba(0,40,40,0.55)" stroke-width="0.55" stroke-linejoin="round"/><polygon points="509.49,101.94 515.24,101.09 517.36,76.40 511.42,77.16" fill="url(#g36)" stroke="rgba(0,40,40,0.55)" stroke-width="0.55" stroke-linejoin="round"/><polygon points="508.82,74.75 514.70,74.02 517.36,76.40 511.42,77.16" fill="#34cf9c" stroke="rgba(0,40,40,0.55)" stroke-width="0.55" stroke-linejoin="round"/><line x1="509.18" y1="69.88" x2="515.10" y2="69.17" stroke="#222" stroke-width="0.55"/><line x1="515.10" y1="69.17" x2="517.78" y2="71.51" stroke="#222" stroke-width="0.55"/><line x1="517.78" y1="71.51" x2="511.80" y2="72.24" stroke="#222" stroke-width="0.55"/><line x1="511.80" y1="72.24" x2="509.18" y2="69.88" stroke="#222" stroke-width="0.55"/><line x1="508.82" y1="74.75" x2="509.18" y2="69.88" stroke="#222" stroke-width="0.55"/><line x1="514.70" y1="74.02" x2="515.10" y2="69.17" stroke="#222" stroke-width="0.55"/><line x1="517.36" y1="76.40" x2="517.78" y2="71.51" stroke="#222" stroke-width="0.55"/><line x1="511.42" y1="77.16" x2="511.80" y2="72.24" stroke="#222" stroke-width="0.55"/><polygon points="439.63,97.33 441.34,99.92 441.34,99.46 439.62,96.87" fill="#2496d8" stroke="rgba(0,40,40,0.55)" stroke-width="0.55" stroke-linejoin="round"/><polygon points="441.34,99.92 447.46,99.08 447.45,98.62 441.34,99.46" fill="#0c2c48" stroke="rgba(0,40,40,0.55)" stroke-width="0.55" stroke-linejoin="round"/><polygon points="439.62,96.87 445.68,96.05 447.45,98.62 441.34,99.46" fill="#14425f" stroke="rgba(0,40,40,0.55)" stroke-width="0.55" stroke-linejoin="round"/><polygon points="534.94,101.16 537.78,103.81 537.95,102.32 535.11,99.69" fill="#36b4f2" stroke="rgba(0,40,40,0.55)" stroke-width="0.55" stroke-linejoin="round"/><polygon points="537.78,103.81 543.41,102.94 543.60,101.46 537.95,102.32" fill="#2d8dcc" stroke="rgba(0,40,40,0.55)" stroke-width="0.55" stroke-linejoin="round"/><polygon points="535.11,99.69 540.70,98.85 543.60,101.46 537.95,102.32" fill="#4aaee2" stroke="rgba(0,40,40,0.55)" stroke-width="0.55" stroke-linejoin="round"/><polygon points="467.43,99.16 469.47,101.79 469.49,101.33 467.44,98.71" fill="#32acf0" stroke="rgba(0,40,40,0.55)" stroke-width="0.55" stroke-linejoin="round"/><polygon points="469.47,101.79 475.47,100.93 475.48,100.47 469.49,101.33" fill="#2b84c4" stroke="rgba(0,40,40,0.55)" stroke-width="0.55" stroke-linejoin="round"/><polygon points="467.44,98.71 473.37,97.87 475.48,100.47 469.49,101.33" fill="#40a2d8" stroke="rgba(0,40,40,0.55)" stroke-width="0.55" stroke-linejoin="round"/><polygon points="495.42,101.01 497.80,103.67 497.83,103.21 495.45,100.55" fill="#32acf0" stroke="rgba(0,40,40,0.55)" stroke-width="0.55" stroke-linejoin="round"/><polygon points="497.80,103.67 503.68,102.80 503.71,102.34 497.83,103.21" fill="#2b84c4" stroke="rgba(0,40,40,0.55)" stroke-width="0.55" stroke-linejoin="round"/><polygon points="495.45,100.55 501.27,99.71 503.71,102.34 497.83,103.21" fill="#40a2d8" stroke="rgba(0,40,40,0.55)" stroke-width="0.55" stroke-linejoin="round"/><polygon points="523.61,102.87 526.33,105.56 529.47,74.72 526.59,72.29" fill="url(#g37)" stroke="rgba(0,40,40,0.55)" stroke-width="0.55" stroke-linejoin="round"/><polygon points="526.33,105.56 532.08,104.68 535.45,73.96 529.47,74.72" fill="url(#g38)" stroke="rgba(0,40,40,0.55)" stroke-width="0.55" stroke-linejoin="round"/><polygon points="526.59,72.29 532.51,71.56 535.45,73.96 529.47,74.72" fill="#3ad190" stroke="rgba(0,40,40,0.55)" stroke-width="0.55" stroke-linejoin="round"/><polygon points="455.38,100.85 457.31,103.53 457.31,103.07 455.39,100.40" fill="#32acf0" stroke="rgba(0,40,40,0.55)" stroke-width="0.55" stroke-linejoin="round"/><polygon points="457.31,103.53 463.42,102.66 463.43,102.19 457.31,103.07" fill="#2b84c4" stroke="rgba(0,40,40,0.55)" stroke-width="0.55" stroke-linejoin="round"/><polygon points="455.39,100.40 461.44,99.55 463.43,102.19 457.31,103.07" fill="#40a2d8" stroke="rgba(0,40,40,0.55)" stroke-width="0.55" stroke-linejoin="round"/><polygon points="483.61,102.73 485.88,105.43 485.90,104.97 483.63,102.27" fill="#32acf0" stroke="rgba(0,40,40,0.55)" stroke-width="0.55" stroke-linejoin="round"/><polygon points="485.88,105.43 491.87,104.55 491.90,104.09 485.90,104.97" fill="#2b84c4" stroke="rgba(0,40,40,0.55)" stroke-width="0.55" stroke-linejoin="round"/><polygon points="483.63,102.27 489.57,101.41 491.90,104.09 485.90,104.97" fill="#40a2d8" stroke="rgba(0,40,40,0.55)" stroke-width="0.55" stroke-linejoin="round"/><polygon points="512.04,104.61 514.66,107.35 517.06,79.40 514.31,76.90" fill="url(#g39)" stroke="rgba(0,40,40,0.55)" stroke-width="0.55" stroke-linejoin="round"/><polygon points="514.66,107.35 520.53,106.45 523.14,78.61 517.06,79.40" fill="url(#g40)" stroke="rgba(0,40,40,0.55)" stroke-width="0.55" stroke-linejoin="round"/><polygon points="514.31,76.90 520.33,76.14 523.14,78.61 517.06,79.40" fill="#37d095" stroke="rgba(0,40,40,0.55)" stroke-width="0.55" stroke-linejoin="round"/><line x1="514.49" y1="74.66" x2="520.53" y2="73.91" stroke="#222" stroke-width="0.55"/><line x1="520.53" y1="73.91" x2="523.35" y2="76.36" stroke="#222" stroke-width="0.55"/><line x1="523.35" y1="76.36" x2="517.25" y2="77.14" stroke="#222" stroke-width="0.55"/><line x1="517.25" y1="77.14" x2="514.49" y2="74.66" stroke="#222" stroke-width="0.55"/><line x1="514.31" y1="76.90" x2="514.49" y2="74.66" stroke="#222" stroke-width="0.55"/><line x1="520.33" y1="76.14" x2="520.53" y2="73.91" stroke="#222" stroke-width="0.55"/><line x1="523.14" y1="78.61" x2="523.35" y2="76.36" stroke="#222" stroke-width="0.55"/><line x1="517.06" y1="79.40" x2="517.25" y2="77.14" stroke="#222" stroke-width="0.55"/><polygon points="443.10,102.58 444.89,105.30 444.89,104.84 443.09,102.12" fill="#32acf0" stroke="rgba(0,40,40,0.55)" stroke-width="0.55" stroke-linejoin="round"/><polygon points="444.89,105.30 451.13,104.41 451.13,103.95 444.89,104.84" fill="#2b84c4" stroke="rgba(0,40,40,0.55)" stroke-width="0.55" stroke-linejoin="round"/><polygon points="443.09,102.12 449.27,101.25 451.13,103.95 444.89,104.84" fill="#40a2d8" stroke="rgba(0,40,40,0.55)" stroke-width="0.55" stroke-linejoin="round"/><polygon points="540.68,106.51 543.65,109.29 543.84,107.77 540.86,105.01" fill="#36b4f2" stroke="rgba(0,40,40,0.55)" stroke-width="0.55" stroke-linejoin="round"/><polygon points="543.65,109.29 549.39,108.37 549.59,106.87 543.84,107.77" fill="#2d8dcc" stroke="rgba(0,40,40,0.55)" stroke-width="0.55" stroke-linejoin="round"/><polygon points="540.86,105.01 546.56,104.13 549.59,106.87 543.84,107.77" fill="#4aaee2" stroke="rgba(0,40,40,0.55)" stroke-width="0.55" stroke-linejoin="round"/><polygon points="471.57,104.48 473.71,107.24 474.34,85.58 472.12,83.01" fill="url(#g41)" stroke="rgba(0,40,40,0.55)" stroke-width="0.55" stroke-linejoin="round"/><polygon points="473.71,107.24 479.83,106.33 480.63,84.77 474.34,85.58" fill="url(#g42)" stroke="rgba(0,40,40,0.55)" stroke-width="0.55" stroke-linejoin="round"/><polygon points="472.12,83.01 478.35,82.22 480.63,84.77 474.34,85.58" fill="#30caa6" stroke="rgba(0,40,40,0.55)" stroke-width="0.55" stroke-linejoin="round"/><line x1="472.35" y1="74.32" x2="478.65" y2="73.56" stroke="#222" stroke-width="0.55"/><line x1="478.65" y1="73.56" x2="480.96" y2="76.03" stroke="#222" stroke-width="0.55"/><line x1="480.96" y1="76.03" x2="474.59" y2="76.81" stroke="#222" stroke-width="0.55"/><line x1="474.59" y1="76.81" x2="472.35" y2="74.32" stroke="#222" stroke-width="0.55"/><line x1="472.12" y1="83.01" x2="472.35" y2="74.32" stroke="#222" stroke-width="0.55"/><line x1="478.35" y1="82.22" x2="478.65" y2="73.56" stroke="#222" stroke-width="0.55"/><line x1="480.63" y1="84.77" x2="480.96" y2="76.03" stroke="#222" stroke-width="0.55"/><line x1="474.34" y1="85.58" x2="474.59" y2="76.81" stroke="#222" stroke-width="0.55"/><polygon points="500.24,106.39 502.75,109.18 502.78,108.71 500.28,105.93" fill="#2496d8" stroke="rgba(0,40,40,0.55)" stroke-width="0.55" stroke-linejoin="round"/><polygon points="502.75,109.18 508.73,108.26 508.77,107.80 502.78,108.71" fill="#0c2c48" stroke="rgba(0,40,40,0.55)" stroke-width="0.55" stroke-linejoin="round"/><polygon points="500.28,105.93 506.21,105.04 508.77,107.80 502.78,108.71" fill="#14425f" stroke="rgba(0,40,40,0.55)" stroke-width="0.55" stroke-linejoin="round"/><polygon points="529.13,108.32 531.99,111.14 532.16,109.62 529.29,106.81" fill="#36b4f2" stroke="rgba(0,40,40,0.55)" stroke-width="0.55" stroke-linejoin="round"/><polygon points="531.99,111.14 537.85,110.21 538.03,108.69 532.16,109.62" fill="#2d8dcc" stroke="rgba(0,40,40,0.55)" stroke-width="0.55" stroke-linejoin="round"/><polygon points="529.29,106.81 535.10,105.91 538.03,108.69 532.16,109.62" fill="#4aaee2" stroke="rgba(0,40,40,0.55)" stroke-width="0.55" stroke-linejoin="round"/><polygon points="459.28,106.27 461.29,109.07 461.61,81.58 459.52,79.01" fill="url(#g43)" stroke="rgba(0,40,40,0.55)" stroke-width="0.55" stroke-linejoin="round"/><polygon points="461.29,109.07 467.54,108.15 468.09,80.77 461.61,81.58" fill="url(#g44)" stroke="rgba(0,40,40,0.55)" stroke-width="0.55" stroke-linejoin="round"/><polygon points="459.52,79.01 465.92,78.23 468.09,80.77 461.61,81.58" fill="#36d097" stroke="rgba(0,40,40,0.55)" stroke-width="0.55" stroke-linejoin="round"/><line x1="459.54" y1="75.86" x2="465.98" y2="75.08" stroke="#222" stroke-width="0.55"/><line x1="465.98" y1="75.08" x2="468.16" y2="77.60" stroke="#222" stroke-width="0.55"/><line x1="468.16" y1="77.60" x2="461.65" y2="78.40" stroke="#222" stroke-width="0.55"/><line x1="461.65" y1="78.40" x2="459.54" y2="75.86" stroke="#222" stroke-width="0.55"/><line x1="459.52" y1="79.01" x2="459.54" y2="75.86" stroke="#222" stroke-width="0.55"/><line x1="465.92" y1="78.23" x2="465.98" y2="75.08" stroke="#222" stroke-width="0.55"/><line x1="468.09" y1="80.77" x2="468.16" y2="77.60" stroke="#222" stroke-width="0.55"/><line x1="461.61" y1="81.58" x2="461.65" y2="78.40" stroke="#222" stroke-width="0.55"/><polygon points="488.20,108.21 490.58,111.05 490.66,109.51 488.28,106.68" fill="#36b4f2" stroke="rgba(0,40,40,0.55)" stroke-width="0.55" stroke-linejoin="round"/><polygon points="490.58,111.05 496.69,110.11 496.79,108.58 490.66,109.51" fill="#2d8dcc" stroke="rgba(0,40,40,0.55)" stroke-width="0.55" stroke-linejoin="round"/><polygon points="488.28,106.68 494.34,105.78 496.79,108.58 490.66,109.51" fill="#4aaee2" stroke="rgba(0,40,40,0.55)" stroke-width="0.55" stroke-linejoin="round"/><polygon points="517.34,110.16 520.09,113.03 520.13,112.56 517.38,109.69" fill="#32acf0" stroke="rgba(0,40,40,0.55)" stroke-width="0.55" stroke-linejoin="round"/><polygon points="520.09,113.03 526.07,112.08 526.12,111.61 520.13,112.56" fill="#2b84c4" stroke="rgba(0,40,40,0.55)" stroke-width="0.55" stroke-linejoin="round"/><polygon points="517.38,109.69 523.31,108.77 526.12,111.61 520.13,112.56" fill="#40a2d8" stroke="rgba(0,40,40,0.55)" stroke-width="0.55" stroke-linejoin="round"/><polygon points="446.73,108.09 448.61,110.95 448.61,110.48 446.73,107.62" fill="#32acf0" stroke="rgba(0,40,40,0.55)" stroke-width="0.55" stroke-linejoin="round"/><polygon points="448.61,110.95 454.99,110.01 454.99,109.53 448.61,110.48" fill="#2b84c4" stroke="rgba(0,40,40,0.55)" stroke-width="0.55" stroke-linejoin="round"/><polygon points="446.73,107.62 453.04,106.71 454.99,109.53 448.61,110.48" fill="#40a2d8" stroke="rgba(0,40,40,0.55)" stroke-width="0.55" stroke-linejoin="round"/><polygon points="475.91,110.06 478.16,112.95 479.07,87.12 476.73,84.45" fill="url(#g45)" stroke="rgba(0,40,40,0.55)" stroke-width="0.55" stroke-linejoin="round"/><polygon points="478.16,112.95 484.40,111.99 485.54,86.27 479.07,87.12" fill="url(#g46)" stroke="rgba(0,40,40,0.55)" stroke-width="0.55" stroke-linejoin="round"/><polygon points="476.73,84.45 483.12,83.62 485.54,86.27 479.07,87.12" fill="#34cf9c" stroke="rgba(0,40,40,0.55)" stroke-width="0.55" stroke-linejoin="round"/><line x1="476.89" y1="79.36" x2="483.33" y2="78.56" stroke="#222" stroke-width="0.55"/><line x1="483.33" y1="78.56" x2="485.76" y2="81.16" stroke="#222" stroke-width="0.55"/><line x1="485.76" y1="81.16" x2="479.26" y2="81.99" stroke="#222" stroke-width="0.55"/><line x1="479.26" y1="81.99" x2="476.89" y2="79.36" stroke="#222" stroke-width="0.55"/><line x1="476.73" y1="84.45" x2="476.89" y2="79.36" stroke="#222" stroke-width="0.55"/><line x1="483.12" y1="83.62" x2="483.33" y2="78.56" stroke="#222" stroke-width="0.55"/><line x1="485.54" y1="86.27" x2="485.76" y2="81.16" stroke="#222" stroke-width="0.55"/><line x1="479.07" y1="87.12" x2="479.26" y2="81.99" stroke="#222" stroke-width="0.55"/><polygon points="505.31,112.04 507.93,114.97 507.97,114.49 505.34,111.57" fill="#2496d8" stroke="rgba(0,40,40,0.55)" stroke-width="0.55" stroke-linejoin="round"/><polygon points="507.93,114.97 514.04,113.99 514.08,113.52 507.97,114.49" fill="#0c2c48" stroke="rgba(0,40,40,0.55)" stroke-width="0.55" stroke-linejoin="round"/><polygon points="505.34,111.57 511.39,110.62 514.08,113.52 507.97,114.49" fill="#14425f" stroke="rgba(0,40,40,0.55)" stroke-width="0.55" stroke-linejoin="round"/><polygon points="463.36,111.95 465.48,114.90 465.98,86.27 463.77,83.57" fill="url(#g47)" stroke="rgba(0,40,40,0.55)" stroke-width="0.55" stroke-linejoin="round"/><polygon points="465.48,114.90 471.85,113.92 472.61,85.41 465.98,86.27" fill="url(#g48)" stroke="rgba(0,40,40,0.55)" stroke-width="0.55" stroke-linejoin="round"/><polygon points="463.77,83.57 470.33,82.74 472.61,85.41 465.98,86.27" fill="#37d096" stroke="rgba(0,40,40,0.55)" stroke-width="0.55" stroke-linejoin="round"/><line x1="463.81" y1="81.00" x2="470.39" y2="80.18" stroke="#222" stroke-width="0.55"/><line x1="470.39" y1="80.18" x2="472.68" y2="82.82" stroke="#222" stroke-width="0.55"/><line x1="472.68" y1="82.82" x2="466.03" y2="83.67" stroke="#222" stroke-width="0.55"/><line x1="466.03" y1="83.67" x2="463.81" y2="81.00" stroke="#222" stroke-width="0.55"/><line x1="463.77" y1="83.57" x2="463.81" y2="81.00" stroke="#222" stroke-width="0.55"/><line x1="470.33" y1="82.74" x2="470.39" y2="80.18" stroke="#222" stroke-width="0.55"/><line x1="472.61" y1="85.41" x2="472.68" y2="82.82" stroke="#222" stroke-width="0.55"/><line x1="465.98" y1="86.27" x2="466.03" y2="83.67" stroke="#222" stroke-width="0.55"/><polygon points="493.02,113.96 495.52,116.94 495.55,116.46 493.05,113.48" fill="#32acf0" stroke="rgba(0,40,40,0.55)" stroke-width="0.55" stroke-linejoin="round"/><polygon points="495.52,116.94 501.76,115.95 501.79,115.47 495.55,116.46" fill="#2b84c4" stroke="rgba(0,40,40,0.55)" stroke-width="0.55" stroke-linejoin="round"/><polygon points="493.05,113.48 499.23,112.52 501.79,115.47 495.55,116.46" fill="#40a2d8" stroke="rgba(0,40,40,0.55)" stroke-width="0.55" stroke-linejoin="round"/><polygon points="450.54,113.88 452.52,116.88 452.52,116.40 450.54,113.40" fill="#2496d8" stroke="rgba(0,40,40,0.55)" stroke-width="0.55" stroke-linejoin="round"/><polygon points="452.52,116.88 459.04,115.88 459.04,115.40 452.52,116.40" fill="#0c2c48" stroke="rgba(0,40,40,0.55)" stroke-width="0.55" stroke-linejoin="round"/><polygon points="450.54,113.40 456.99,112.43 459.04,115.40 452.52,116.40" fill="#14425f" stroke="rgba(0,40,40,0.55)" stroke-width="0.55" stroke-linejoin="round"/><polygon points="480.47,115.92 482.84,118.96 482.86,118.47 480.49,115.44" fill="#32acf0" stroke="rgba(0,40,40,0.55)" stroke-width="0.55" stroke-linejoin="round"/><polygon points="482.84,118.96 489.21,117.94 489.24,117.46 482.86,118.47" fill="#2b84c4" stroke="rgba(0,40,40,0.55)" stroke-width="0.55" stroke-linejoin="round"/><polygon points="480.49,115.44 486.80,114.45 489.24,117.46 482.86,118.47" fill="#40a2d8" stroke="rgba(0,40,40,0.55)" stroke-width="0.55" stroke-linejoin="round"/><polygon points="467.65,117.92 469.88,121.02 469.89,120.53 467.66,117.44" fill="#2496d8" stroke="rgba(0,40,40,0.55)" stroke-width="0.55" stroke-linejoin="round"/><polygon points="469.88,121.02 476.39,119.98 476.41,119.50 469.89,120.53" fill="#0c2c48" stroke="rgba(0,40,40,0.55)" stroke-width="0.55" stroke-linejoin="round"/><polygon points="467.66,117.44 474.11,116.43 476.41,119.50 469.89,120.53" fill="#14425f" stroke="rgba(0,40,40,0.55)" stroke-width="0.55" stroke-linejoin="round"/><polygon points="454.55,119.96 456.64,123.12 456.64,122.63 454.55,119.48" fill="#2496d8" stroke="rgba(0,40,40,0.55)" stroke-width="0.55" stroke-linejoin="round"/><polygon points="456.64,123.12 463.29,122.06 463.30,121.58 456.64,122.63" fill="#0c2c48" stroke="rgba(0,40,40,0.55)" stroke-width="0.55" stroke-linejoin="round"/><polygon points="454.55,119.48 461.14,118.45 463.30,121.58 456.64,122.63" fill="#14425f" stroke="rgba(0,40,40,0.55)" stroke-width="0.55" stroke-linejoin="round"/><line x1="30.20" y1="180.78" x2="121.98" y2="173.06" stroke="#c8c8c8" stroke-width="0.70"/><line x1="121.98" y1="173.06" x2="178.97" y2="185.73" stroke="#c8c8c8" stroke-width="0.70"/><line x1="121.98" y1="173.06" x2="122.77" y2="258.28" stroke="#c8c8c8" stroke-width="0.70"/><line x1="178.97" y1="185.73" x2="176.67" y2="287.12" stroke="#c8c8c8" stroke-width="0.70"/><line x1="35.83" y1="273.31" x2="122.77" y2="258.28" stroke="#c8c8c8" stroke-width="0.70"/><line x1="122.77" y1="258.28" x2="176.67" y2="287.12" stroke="#c8c8c8" stroke-width="0.70"/><line x1="30.20" y1="180.78" x2="35.83" y2="273.31" stroke="#888" stroke-width="0.80"/><line x1="30.20" y1="180.78" x2="32.71" y2="180.57" stroke="#888" stroke-width="0.7"/><text x="27.70" y="187.28" font-size="12.8" text-anchor="end" fill="#111">1.0</text><line x1="32.74" y1="222.41" x2="35.18" y2="222.11" stroke="#888" stroke-width="0.7"/><text x="30.24" y="228.91" font-size="13.0" text-anchor="end" fill="#111">0.5</text><line x1="35.15" y1="262.13" x2="37.54" y2="261.75" stroke="#888" stroke-width="0.7"/><text x="32.65" y="268.63" font-size="13.2" text-anchor="end" fill="#111">0.0</text><line x1="35.83" y1="273.31" x2="76.55" y2="308.65" stroke="#444" stroke-width="0.70"/><line x1="76.55" y1="308.65" x2="176.67" y2="287.12" stroke="#444" stroke-width="0.70"/><line x1="40.10" y1="277.02" x2="42.03" y2="276.68" stroke="#333" stroke-width="0.60"/><line x1="90.26" y1="305.70" x2="89.22" y2="304.87" stroke="#333" stroke-width="0.60"/><line x1="49.26" y1="284.96" x2="51.26" y2="284.59" stroke="#333" stroke-width="0.60"/><line x1="116.58" y1="300.04" x2="115.46" y2="299.25" stroke="#333" stroke-width="0.60"/><line x1="59.34" y1="293.71" x2="61.43" y2="293.30" stroke="#333" stroke-width="0.60"/><line x1="141.55" y1="294.67" x2="140.35" y2="293.93" stroke="#333" stroke-width="0.60"/><line x1="70.51" y1="303.40" x2="72.68" y2="302.95" stroke="#333" stroke-width="0.60"/><line x1="165.25" y1="289.57" x2="164.00" y2="288.87" stroke="#333" stroke-width="0.60"/><text transform="matrix(1.2225,-0.2186,0.4383,0.3876,38.76,278.92)" font-size="10" text-anchor="end" fill="#111" stroke="#111" stroke-width="0.1">HH</text><text transform="matrix(0.7128,0.5896,-1.5095,0.3271,86.91,308.03)" font-size="10" text-anchor="start" fill="#111" stroke="#111" stroke-width="0.1">HH</text><text transform="matrix(1.2711,-0.2393,0.4823,0.4264,47.96,287.05)" font-size="10" text-anchor="end" fill="#111" stroke="#111" stroke-width="0.1">HV</text><text transform="matrix(0.7722,0.5568,-1.4296,0.3097,113.62,302.24)" font-size="10" text-anchor="start" fill="#111" stroke="#111" stroke-width="0.1">HV</text><text transform="matrix(1.3234,-0.2632,0.5332,0.4714,58.10,296.02)" font-size="10" text-anchor="end" fill="#111" stroke="#111" stroke-width="0.1">VH</text><text transform="matrix(0.8245,0.5266,-1.3560,0.2938,138.94,296.76)" font-size="10" text-anchor="start" fill="#111" stroke="#111" stroke-width="0.1">VH</text><text transform="matrix(1.3799,-0.2910,0.5926,0.5240,69.34,305.96)" font-size="10" text-anchor="end" fill="#111" stroke="#111" stroke-width="0.1">VV</text><text transform="matrix(0.8705,0.4987,-1.2878,0.2790,162.96,291.55)" font-size="10" text-anchor="start" fill="#111" stroke="#111" stroke-width="0.1">VV</text><polygon points="110.14,251.89 115.79,254.92 115.79,254.32 110.13,251.30" fill="#2496d8" stroke="rgba(0,40,40,0.55)" stroke-width="0.45" stroke-linejoin="round"/><polygon points="115.79,254.92 126.27,253.16 126.27,252.57 115.79,254.32" fill="#0c2c48" stroke="rgba(0,40,40,0.55)" stroke-width="0.45" stroke-linejoin="round"/><polygon points="110.13,251.30 120.45,249.61 126.27,252.57 115.79,254.32" fill="#113b5e" stroke="rgba(0,40,40,0.55)" stroke-width="0.45" stroke-linejoin="round"/><polygon points="88.88,257.26 94.18,260.48 94.13,258.57 88.82,255.39" fill="#30aef0" stroke="rgba(0,40,40,0.55)" stroke-width="0.45" stroke-linejoin="round"/><polygon points="94.18,260.48 105.12,258.62 105.08,256.73 94.13,258.57" fill="#2786c6" stroke="rgba(0,40,40,0.55)" stroke-width="0.45" stroke-linejoin="round"/><polygon points="88.82,255.39 99.59,253.62 105.08,256.73 94.13,258.57" fill="#103d64" stroke="rgba(0,40,40,0.55)" stroke-width="0.45" stroke-linejoin="round"/><polygon points="121.71,258.10 127.89,261.41 127.87,259.07 121.68,255.80" fill="#36b4f2" stroke="rgba(0,40,40,0.55)" stroke-width="0.45" stroke-linejoin="round"/><polygon points="127.89,261.41 138.70,259.50 138.70,257.17 127.87,259.07" fill="#2d8dcc" stroke="rgba(0,40,40,0.55)" stroke-width="0.45" stroke-linejoin="round"/><polygon points="121.68,255.80 132.34,253.98 138.70,257.17 127.87,259.07" fill="#48a9e2" stroke="rgba(0,40,40,0.55)" stroke-width="0.45" stroke-linejoin="round"/><polygon points="66.63,260.95 71.55,264.33 71.47,262.38 66.55,259.04" fill="#30aef0" stroke="rgba(0,40,40,0.55)" stroke-width="0.45" stroke-linejoin="round"/><polygon points="71.55,264.33 82.99,262.38 82.93,260.45 71.47,262.38" fill="#2786c6" stroke="rgba(0,40,40,0.55)" stroke-width="0.45" stroke-linejoin="round"/><polygon points="66.55,259.04 77.81,257.19 82.93,260.45 71.47,262.38" fill="#103d64" stroke="rgba(0,40,40,0.55)" stroke-width="0.45" stroke-linejoin="round"/><polygon points="99.68,261.90 105.49,265.38 105.49,264.90 99.67,261.43" fill="#32acf0" stroke="rgba(0,40,40,0.55)" stroke-width="0.45" stroke-linejoin="round"/><polygon points="105.49,265.38 116.82,263.37 116.81,262.90 105.49,264.90" fill="#2b84c4" stroke="rgba(0,40,40,0.55)" stroke-width="0.45" stroke-linejoin="round"/><polygon points="99.67,261.43 110.81,259.51 116.81,262.90 105.49,264.90" fill="#3d9ad8" stroke="rgba(0,40,40,0.55)" stroke-width="0.45" stroke-linejoin="round"/><polygon points="43.26,262.86 47.75,266.37 47.73,265.89 43.23,262.40" fill="#32acf0" stroke="rgba(0,40,40,0.55)" stroke-width="0.45" stroke-linejoin="round"/><polygon points="47.75,266.37 59.75,264.35 59.73,263.88 47.73,265.89" fill="#2b84c4" stroke="rgba(0,40,40,0.55)" stroke-width="0.45" stroke-linejoin="round"/><polygon points="43.23,262.40 55.01,260.47 59.73,263.88 47.73,265.89" fill="#3d9ad8" stroke="rgba(0,40,40,0.55)" stroke-width="0.45" stroke-linejoin="round"/><polygon points="134.36,264.88 141.14,268.52 141.14,266.07 134.35,262.49" fill="#36b4f2" stroke="rgba(0,40,40,0.55)" stroke-width="0.45" stroke-linejoin="round"/><polygon points="141.14,268.52 152.31,266.43 152.33,264.01 141.14,266.07" fill="#2d8dcc" stroke="rgba(0,40,40,0.55)" stroke-width="0.45" stroke-linejoin="round"/><polygon points="134.35,262.49 145.36,260.51 152.33,264.01 141.14,266.07" fill="#48a9e2" stroke="rgba(0,40,40,0.55)" stroke-width="0.45" stroke-linejoin="round"/><polygon points="76.63,265.87 82.03,269.54 82.01,269.05 76.61,265.40" fill="#32acf0" stroke="rgba(0,40,40,0.55)" stroke-width="0.45" stroke-linejoin="round"/><polygon points="82.03,269.54 93.90,267.43 93.89,266.95 82.01,269.05" fill="#2b84c4" stroke="rgba(0,40,40,0.55)" stroke-width="0.45" stroke-linejoin="round"/><polygon points="76.61,265.40 88.27,263.39 93.89,266.95 82.01,269.05" fill="#3d9ad8" stroke="rgba(0,40,40,0.55)" stroke-width="0.45" stroke-linejoin="round"/><polygon points="111.58,269.03 117.97,272.86 117.97,272.36 111.58,268.54" fill="#32acf0" stroke="rgba(0,40,40,0.55)" stroke-width="0.45" stroke-linejoin="round"/><polygon points="117.97,272.86 129.70,270.66 129.69,270.17 117.97,272.36" fill="#2b84c4" stroke="rgba(0,40,40,0.55)" stroke-width="0.45" stroke-linejoin="round"/><polygon points="111.58,268.54 123.10,266.45 129.69,270.17 117.97,272.36" fill="#3d9ad8" stroke="rgba(0,40,40,0.55)" stroke-width="0.45" stroke-linejoin="round"/><polygon points="52.46,270.04 57.41,273.90 57.29,271.40 52.34,267.60" fill="#36b4f2" stroke="rgba(0,40,40,0.55)" stroke-width="0.45" stroke-linejoin="round"/><polygon points="57.41,273.90 69.87,271.69 69.77,269.22 57.29,271.40" fill="#2d8dcc" stroke="rgba(0,40,40,0.55)" stroke-width="0.45" stroke-linejoin="round"/><polygon points="52.34,267.60 64.58,265.51 69.77,269.22 57.29,271.40" fill="#48a9e2" stroke="rgba(0,40,40,0.55)" stroke-width="0.45" stroke-linejoin="round"/><polygon points="148.25,272.34 155.72,276.34 155.72,275.83 148.25,271.84" fill="#32acf0" stroke="rgba(0,40,40,0.55)" stroke-width="0.45" stroke-linejoin="round"/><polygon points="155.72,276.34 167.26,274.05 167.27,273.55 155.72,275.83" fill="#2b84c4" stroke="rgba(0,40,40,0.55)" stroke-width="0.45" stroke-linejoin="round"/><polygon points="148.25,271.84 159.61,269.65 167.27,273.55 155.72,275.83" fill="#3d9ad8" stroke="rgba(0,40,40,0.55)" stroke-width="0.45" stroke-linejoin="round"/><polygon points="87.69,273.38 93.64,277.41 93.62,276.73 87.67,272.71" fill="#2496d8" stroke="rgba(0,40,40,0.55)" stroke-width="0.45" stroke-linejoin="round"/><polygon points="93.64,277.41 105.96,275.11 105.95,274.43 93.62,276.73" fill="#0c2c48" stroke="rgba(0,40,40,0.55)" stroke-width="0.45" stroke-linejoin="round"/><polygon points="87.67,272.71 99.77,270.52 105.95,274.43 93.62,276.73" fill="#113b5e" stroke="rgba(0,40,40,0.55)" stroke-width="0.45" stroke-linejoin="round"/><polygon points="124.70,279.00 131.75,283.28 131.74,281.11 124.68,276.88" fill="#30aef0" stroke="rgba(0,40,40,0.55)" stroke-width="0.45" stroke-linejoin="round"/><polygon points="131.75,283.28 143.87,280.85 143.88,278.69 131.74,281.11" fill="#2786c6" stroke="rgba(0,40,40,0.55)" stroke-width="0.45" stroke-linejoin="round"/><polygon points="124.68,276.88 136.61,274.58 143.88,278.69 131.74,281.11" fill="#103d64" stroke="rgba(0,40,40,0.55)" stroke-width="0.45" stroke-linejoin="round"/><polygon points="62.59,277.95 68.05,282.20 67.94,279.59 62.48,275.39" fill="#36b4f2" stroke="rgba(0,40,40,0.55)" stroke-width="0.45" stroke-linejoin="round"/><polygon points="68.05,282.20 81.01,279.78 80.92,277.19 67.94,279.59" fill="#2d8dcc" stroke="rgba(0,40,40,0.55)" stroke-width="0.45" stroke-linejoin="round"/><polygon points="62.48,275.39 75.20,273.10 80.92,277.19 67.94,279.59" fill="#48a9e2" stroke="rgba(0,40,40,0.55)" stroke-width="0.45" stroke-linejoin="round"/><polygon points="99.95,283.83 106.53,288.35 106.48,286.12 99.90,281.65" fill="#30aef0" stroke="rgba(0,40,40,0.55)" stroke-width="0.45" stroke-linejoin="round"/><polygon points="106.53,288.35 119.30,285.78 119.28,283.58 106.48,286.12" fill="#2786c6" stroke="rgba(0,40,40,0.55)" stroke-width="0.45" stroke-linejoin="round"/><polygon points="99.90,281.65 112.45,279.24 119.28,283.58 106.48,286.12" fill="#103d64" stroke="rgba(0,40,40,0.55)" stroke-width="0.45" stroke-linejoin="round"/><polygon points="73.80,286.68 79.85,291.41 79.83,290.86 73.77,286.15" fill="#32acf0" stroke="rgba(0,40,40,0.55)" stroke-width="0.45" stroke-linejoin="round"/><polygon points="79.85,291.41 93.35,288.73 93.33,288.19 79.83,290.86" fill="#2b84c4" stroke="rgba(0,40,40,0.55)" stroke-width="0.45" stroke-linejoin="round"/><polygon points="73.77,286.15 87.00,283.61 93.33,288.19 79.83,290.86" fill="#3d9ad8" stroke="rgba(0,40,40,0.55)" stroke-width="0.45" stroke-linejoin="round"/><line x1="223.60" y1="181.54" x2="315.20" y2="172.40" stroke="#c8c8c8" stroke-width="0.70"/><line x1="315.20" y1="172.40" x2="374.61" y2="187.30" stroke="#c8c8c8" stroke-width="0.70"/><line x1="315.20" y1="172.40" x2="315.82" y2="255.57" stroke="#c8c8c8" stroke-width="0.70"/><line x1="374.61" y1="187.30" x2="370.89" y2="285.00" stroke="#c8c8c8" stroke-width="0.70"/><line x1="230.63" y1="272.20" x2="315.82" y2="255.57" stroke="#c8c8c8" stroke-width="0.70"/><line x1="315.82" y1="255.57" x2="370.89" y2="285.00" stroke="#c8c8c8" stroke-width="0.70"/><line x1="223.60" y1="181.54" x2="230.63" y2="272.20" stroke="#888" stroke-width="0.80"/><line x1="223.60" y1="181.54" x2="226.12" y2="181.29" stroke="#888" stroke-width="0.7"/><text x="221.10" y="188.04" font-size="12.8" text-anchor="end" fill="#111">1.0</text><line x1="226.75" y1="222.22" x2="229.19" y2="221.87" stroke="#888" stroke-width="0.7"/><text x="224.25" y="228.72" font-size="13.0" text-anchor="end" fill="#111">0.5</text><line x1="229.72" y1="260.45" x2="232.07" y2="260.02" stroke="#888" stroke-width="0.7"/><text x="227.22" y="266.95" font-size="13.2" text-anchor="end" fill="#111">0.0</text><line x1="230.63" y1="272.20" x2="274.30" y2="308.60" stroke="#444" stroke-width="0.70"/><line x1="274.30" y1="308.60" x2="370.89" y2="285.00" stroke="#444" stroke-width="0.70"/><line x1="235.24" y1="276.04" x2="237.14" y2="275.66" stroke="#333" stroke-width="0.60"/><line x1="287.60" y1="305.35" x2="286.51" y2="304.50" stroke="#333" stroke-width="0.60"/><line x1="245.10" y1="284.26" x2="247.07" y2="283.85" stroke="#333" stroke-width="0.60"/><line x1="313.08" y1="299.12" x2="311.92" y2="298.32" stroke="#333" stroke-width="0.60"/><line x1="255.93" y1="293.29" x2="257.96" y2="292.83" stroke="#333" stroke-width="0.60"/><line x1="337.16" y1="293.24" x2="335.93" y2="292.48" stroke="#333" stroke-width="0.60"/><line x1="267.86" y1="303.23" x2="269.97" y2="302.73" stroke="#333" stroke-width="0.60"/><line x1="359.95" y1="287.67" x2="358.67" y2="286.96" stroke="#333" stroke-width="0.60"/><text transform="matrix(1.2037,-0.2432,0.4738,0.4017,234.07,278.05)" font-size="10" text-anchor="end" fill="#111" stroke="#111" stroke-width="0.1">HH</text><text transform="matrix(0.7539,0.6017,-1.4639,0.3604,284.49,307.81)" font-size="10" text-anchor="start" fill="#111" stroke="#111" stroke-width="0.1">HH</text><text transform="matrix(1.2472,-0.2657,0.5194,0.4404,243.99,286.46)" font-size="10" text-anchor="end" fill="#111" stroke="#111" stroke-width="0.1">HV</text><text transform="matrix(0.8047,0.5666,-1.3814,0.3401,310.35,301.45)" font-size="10" text-anchor="start" fill="#111" stroke="#111" stroke-width="0.1">HV</text><text transform="matrix(1.2936,-0.2916,0.5719,0.4849,254.89,295.70)" font-size="10" text-anchor="end" fill="#111" stroke="#111" stroke-width="0.1">VH</text><text transform="matrix(0.8488,0.5345,-1.3056,0.3215,334.76,295.43)" font-size="10" text-anchor="start" fill="#111" stroke="#111" stroke-width="0.1">VH</text><text transform="matrix(1.3431,-0.3216,0.6328,0.5365,266.93,305.90)" font-size="10" text-anchor="end" fill="#111" stroke="#111" stroke-width="0.1">VV</text><text transform="matrix(0.8870,0.5050,-1.2359,0.3043,357.86,289.75)" font-size="10" text-anchor="start" fill="#111" stroke="#111" stroke-width="0.1">VV</text><polygon points="303.65,248.98 309.53,252.12 309.52,251.55 303.64,248.42" fill="#2496d8" stroke="rgba(0,40,40,0.55)" stroke-width="0.45" stroke-linejoin="round"/><polygon points="309.53,252.12 319.75,250.18 319.75,249.61 309.52,251.55" fill="#0c2c48" stroke="rgba(0,40,40,0.55)" stroke-width="0.45" stroke-linejoin="round"/><polygon points="303.64,248.42 313.73,246.56 319.75,249.61 309.52,251.55" fill="#113b5e" stroke="rgba(0,40,40,0.55)" stroke-width="0.45" stroke-linejoin="round"/><polygon points="282.84,254.62 288.40,257.95 288.35,256.14 282.78,252.84" fill="#30aef0" stroke="rgba(0,40,40,0.55)" stroke-width="0.45" stroke-linejoin="round"/><polygon points="288.40,257.95 299.10,255.90 299.07,254.10 288.35,256.14" fill="#2786c6" stroke="rgba(0,40,40,0.55)" stroke-width="0.45" stroke-linejoin="round"/><polygon points="282.78,252.84 293.34,250.89 299.07,254.10 288.35,256.14" fill="#103d64" stroke="rgba(0,40,40,0.55)" stroke-width="0.45" stroke-linejoin="round"/><polygon points="315.66,255.39 322.06,258.81 322.05,256.58 315.64,253.21" fill="#36b4f2" stroke="rgba(0,40,40,0.55)" stroke-width="0.45" stroke-linejoin="round"/><polygon points="322.06,258.81 332.57,256.70 332.58,254.50 322.05,256.58" fill="#2d8dcc" stroke="rgba(0,40,40,0.55)" stroke-width="0.45" stroke-linejoin="round"/><polygon points="315.64,253.21 326.02,251.21 332.58,254.50 322.05,256.58" fill="#48a9e2" stroke="rgba(0,40,40,0.55)" stroke-width="0.45" stroke-linejoin="round"/><polygon points="260.99,258.71 266.21,262.21 266.13,260.36 260.90,256.89" fill="#30aef0" stroke="rgba(0,40,40,0.55)" stroke-width="0.45" stroke-linejoin="round"/><polygon points="266.21,262.21 277.44,260.06 277.37,258.22 266.13,260.36" fill="#2786c6" stroke="rgba(0,40,40,0.55)" stroke-width="0.45" stroke-linejoin="round"/><polygon points="260.90,256.89 271.97,254.84 277.37,258.22 266.13,260.36" fill="#103d64" stroke="rgba(0,40,40,0.55)" stroke-width="0.45" stroke-linejoin="round"/><polygon points="294.17,259.58 300.24,263.18 300.23,262.57 294.15,258.99" fill="#2496d8" stroke="rgba(0,40,40,0.55)" stroke-width="0.45" stroke-linejoin="round"/><polygon points="300.24,263.18 311.29,260.96 311.28,260.36 300.23,262.57" fill="#0c2c48" stroke="rgba(0,40,40,0.55)" stroke-width="0.45" stroke-linejoin="round"/><polygon points="294.15,258.99 305.03,256.87 311.28,260.36 300.23,262.57" fill="#113b5e" stroke="rgba(0,40,40,0.55)" stroke-width="0.45" stroke-linejoin="round"/><polygon points="237.93,261.14 242.77,264.79 242.74,264.33 237.90,260.69" fill="#32acf0" stroke="rgba(0,40,40,0.55)" stroke-width="0.45" stroke-linejoin="round"/><polygon points="242.77,264.79 254.60,262.55 254.57,262.10 242.74,264.33" fill="#2b84c4" stroke="rgba(0,40,40,0.55)" stroke-width="0.45" stroke-linejoin="round"/><polygon points="237.90,260.69 249.53,258.55 254.57,262.10 242.74,264.33" fill="#3d9ad8" stroke="rgba(0,40,40,0.55)" stroke-width="0.45" stroke-linejoin="round"/><polygon points="328.74,262.37 335.73,266.11 335.75,263.79 328.75,260.11" fill="#36b4f2" stroke="rgba(0,40,40,0.55)" stroke-width="0.45" stroke-linejoin="round"/><polygon points="335.73,266.11 346.54,263.81 346.58,261.53 335.75,263.79" fill="#2d8dcc" stroke="rgba(0,40,40,0.55)" stroke-width="0.45" stroke-linejoin="round"/><polygon points="328.75,260.11 339.42,257.94 346.58,261.53 335.75,263.79" fill="#48a9e2" stroke="rgba(0,40,40,0.55)" stroke-width="0.45" stroke-linejoin="round"/><polygon points="271.59,263.98 277.30,267.77 277.28,267.31 271.57,263.53" fill="#32acf0" stroke="rgba(0,40,40,0.55)" stroke-width="0.45" stroke-linejoin="round"/><polygon points="277.30,267.77 288.92,265.44 288.91,264.98 277.28,267.31" fill="#2b84c4" stroke="rgba(0,40,40,0.55)" stroke-width="0.45" stroke-linejoin="round"/><polygon points="271.57,263.53 283.00,261.30 288.91,264.98 277.28,267.31" fill="#3d9ad8" stroke="rgba(0,40,40,0.55)" stroke-width="0.45" stroke-linejoin="round"/><polygon points="306.60,266.94 313.25,270.87 313.25,270.40 306.59,266.47" fill="#32acf0" stroke="rgba(0,40,40,0.55)" stroke-width="0.45" stroke-linejoin="round"/><polygon points="313.25,270.87 324.64,268.46 324.63,267.99 313.25,270.40" fill="#2b84c4" stroke="rgba(0,40,40,0.55)" stroke-width="0.45" stroke-linejoin="round"/><polygon points="306.59,266.47 317.81,264.17 324.63,267.99 313.25,270.40" fill="#3d9ad8" stroke="rgba(0,40,40,0.55)" stroke-width="0.45" stroke-linejoin="round"/><polygon points="247.84,268.61 253.15,272.61 253.01,270.24 247.69,266.28" fill="#36b4f2" stroke="rgba(0,40,40,0.55)" stroke-width="0.45" stroke-linejoin="round"/><polygon points="253.15,272.61 265.38,270.16 265.27,267.81 253.01,270.24" fill="#2d8dcc" stroke="rgba(0,40,40,0.55)" stroke-width="0.45" stroke-linejoin="round"/><polygon points="247.69,266.28 259.74,263.96 265.27,267.81 253.01,270.24" fill="#48a9e2" stroke="rgba(0,40,40,0.55)" stroke-width="0.45" stroke-linejoin="round"/><polygon points="343.04,270.01 350.71,274.11 350.72,273.62 343.05,269.54" fill="#32acf0" stroke="rgba(0,40,40,0.55)" stroke-width="0.45" stroke-linejoin="round"/><polygon points="350.71,274.11 361.83,271.60 361.84,271.12 350.72,273.62" fill="#2b84c4" stroke="rgba(0,40,40,0.55)" stroke-width="0.45" stroke-linejoin="round"/><polygon points="343.05,269.54 354.02,267.15 361.84,271.12 350.72,273.62" fill="#3d9ad8" stroke="rgba(0,40,40,0.55)" stroke-width="0.45" stroke-linejoin="round"/><polygon points="283.29,271.74 289.56,275.90 289.54,275.42 283.27,271.27" fill="#32acf0" stroke="rgba(0,40,40,0.55)" stroke-width="0.45" stroke-linejoin="round"/><polygon points="289.56,275.90 301.56,273.35 301.55,272.87 289.54,275.42" fill="#2b84c4" stroke="rgba(0,40,40,0.55)" stroke-width="0.45" stroke-linejoin="round"/><polygon points="283.27,271.27 295.08,268.84 301.55,272.87 289.54,275.42" fill="#3d9ad8" stroke="rgba(0,40,40,0.55)" stroke-width="0.45" stroke-linejoin="round"/><polygon points="320.23,277.00 327.53,281.37 327.54,279.33 320.22,275.00" fill="#30aef0" stroke="rgba(0,40,40,0.55)" stroke-width="0.45" stroke-linejoin="round"/><polygon points="327.53,281.37 339.26,278.70 339.28,276.68 327.54,279.33" fill="#2786c6" stroke="rgba(0,40,40,0.55)" stroke-width="0.45" stroke-linejoin="round"/><polygon points="320.22,275.00 331.78,272.47 339.28,276.68 327.54,279.33" fill="#103d64" stroke="rgba(0,40,40,0.55)" stroke-width="0.45" stroke-linejoin="round"/><polygon points="258.71,276.80 264.54,281.20 264.42,278.73 258.57,274.38" fill="#36b4f2" stroke="rgba(0,40,40,0.55)" stroke-width="0.45" stroke-linejoin="round"/><polygon points="264.54,281.20 277.22,278.51 277.13,276.07 264.42,278.73" fill="#2d8dcc" stroke="rgba(0,40,40,0.55)" stroke-width="0.45" stroke-linejoin="round"/><polygon points="258.57,274.38 271.06,271.84 277.13,276.07 264.42,278.73" fill="#48a9e2" stroke="rgba(0,40,40,0.55)" stroke-width="0.45" stroke-linejoin="round"/><polygon points="296.19,282.31 303.09,286.94 303.05,284.85 296.14,280.26" fill="#30aef0" stroke="rgba(0,40,40,0.55)" stroke-width="0.45" stroke-linejoin="round"/><polygon points="303.09,286.94 315.48,284.12 315.47,282.05 303.05,284.85" fill="#2786c6" stroke="rgba(0,40,40,0.55)" stroke-width="0.45" stroke-linejoin="round"/><polygon points="296.14,280.26 308.35,277.60 315.47,282.05 303.05,284.85" fill="#103d64" stroke="rgba(0,40,40,0.55)" stroke-width="0.45" stroke-linejoin="round"/><polygon points="270.68,285.83 277.13,290.69 277.11,290.18 270.66,285.32" fill="#32acf0" stroke="rgba(0,40,40,0.55)" stroke-width="0.45" stroke-linejoin="round"/><polygon points="277.13,290.69 290.28,287.73 290.26,287.22 277.11,290.18" fill="#2b84c4" stroke="rgba(0,40,40,0.55)" stroke-width="0.45" stroke-linejoin="round"/><polygon points="270.66,285.32 283.57,282.51 290.26,287.22 277.11,290.18" fill="#3d9ad8" stroke="rgba(0,40,40,0.55)" stroke-width="0.45" stroke-linejoin="round"/><line x1="423.64" y1="180.47" x2="514.75" y2="171.22" stroke="#c8c8c8" stroke-width="0.70"/><line x1="514.75" y1="171.22" x2="563.49" y2="197.63" stroke="#c8c8c8" stroke-width="0.70"/><line x1="514.75" y1="171.22" x2="511.81" y2="242.88" stroke="#c8c8c8" stroke-width="0.70"/><line x1="563.49" y1="197.63" x2="555.05" y2="280.24" stroke="#c8c8c8" stroke-width="0.70"/><line x1="428.80" y1="256.49" x2="511.81" y2="242.88" stroke="#c8c8c8" stroke-width="0.70"/><line x1="511.81" y1="242.88" x2="555.05" y2="280.24" stroke="#c8c8c8" stroke-width="0.70"/><line x1="423.64" y1="180.47" x2="428.80" y2="256.49" stroke="#888" stroke-width="0.80"/><line x1="423.64" y1="180.47" x2="426.09" y2="180.22" stroke="#888" stroke-width="0.7"/><text x="421.14" y="187.47" font-size="15.2" text-anchor="end" fill="#111">0.50</text><line x1="425.73" y1="211.33" x2="428.09" y2="211.03" stroke="#888" stroke-width="0.7"/><text x="423.23" y="218.33" font-size="14.6" text-anchor="end" fill="#111">0.25</text><line x1="427.68" y1="239.99" x2="429.95" y2="239.65" stroke="#888" stroke-width="0.7"/><text x="425.18" y="246.99" font-size="14.0" text-anchor="end" fill="#111">0.00</text><line x1="428.80" y1="256.49" x2="458.66" y2="299.93" stroke="#444" stroke-width="0.70"/><line x1="458.66" y1="299.93" x2="555.05" y2="280.24" stroke="#444" stroke-width="0.70"/><line x1="430.36" y1="258.76" x2="432.16" y2="258.46" stroke="#333" stroke-width="0.60"/><line x1="465.18" y1="298.60" x2="464.44" y2="297.56" stroke="#333" stroke-width="0.60"/><line x1="433.59" y1="263.46" x2="435.42" y2="263.15" stroke="#333" stroke-width="0.60"/><line x1="478.00" y1="295.98" x2="477.22" y2="294.97" stroke="#333" stroke-width="0.60"/><line x1="436.97" y1="268.37" x2="438.84" y2="268.05" stroke="#333" stroke-width="0.60"/><line x1="490.55" y1="293.41" x2="489.72" y2="292.42" stroke="#333" stroke-width="0.60"/><line x1="440.50" y1="273.51" x2="442.41" y2="273.17" stroke="#333" stroke-width="0.60"/><line x1="502.84" y1="290.90" x2="501.97" y2="289.93" stroke="#333" stroke-width="0.60"/><line x1="444.20" y1="278.90" x2="446.15" y2="278.54" stroke="#333" stroke-width="0.60"/><line x1="514.86" y1="288.45" x2="513.96" y2="287.50" stroke="#333" stroke-width="0.60"/><line x1="448.08" y1="284.54" x2="450.07" y2="284.16" stroke="#333" stroke-width="0.60"/><line x1="526.64" y1="286.04" x2="525.70" y2="285.11" stroke="#333" stroke-width="0.60"/><line x1="452.16" y1="290.47" x2="454.18" y2="290.07" stroke="#333" stroke-width="0.60"/><line x1="538.18" y1="283.68" x2="537.21" y2="282.77" stroke="#333" stroke-width="0.60"/><line x1="456.44" y1="296.69" x2="458.51" y2="296.28" stroke="#333" stroke-width="0.60"/><line x1="549.49" y1="281.38" x2="548.48" y2="280.48" stroke="#333" stroke-width="0.60"/><text transform="matrix(1.4370,-0.2475,0.4135,0.6093,433.36,265.94)" font-size="10" text-anchor="end" fill="#111" stroke="#111" stroke-width="0.1">AHV</text><text transform="matrix(0.6614,0.8826,-1.7513,0.3605,473.47,298.76)" font-size="10" text-anchor="start" fill="#111" stroke="#111" stroke-width="0.1">AHV</text><text transform="matrix(1.4957,-0.2718,0.4532,0.6678,440.34,276.23)" font-size="10" text-anchor="end" fill="#111" stroke="#111" stroke-width="0.1">AVV</text><text transform="matrix(0.7336,0.8460,-1.6774,0.3453,498.68,293.57)" font-size="10" text-anchor="start" fill="#111" stroke="#111" stroke-width="0.1">AVV</text><text transform="matrix(1.5593,-0.2997,0.4989,0.7350,448.01,287.53)" font-size="10" text-anchor="end" fill="#111" stroke="#111" stroke-width="0.1">BHV</text><text transform="matrix(0.7992,0.8117,-1.6081,0.3310,522.83,288.60)" font-size="10" text-anchor="start" fill="#111" stroke="#111" stroke-width="0.1">BHV</text><text transform="matrix(1.6285,-0.3321,0.5518,0.8130,456.47,300.00)" font-size="10" text-anchor="end" fill="#111" stroke="#111" stroke-width="0.1">BVV</text><text transform="matrix(0.8589,0.7795,-1.5429,0.3176,546.00,283.83)" font-size="10" text-anchor="start" fill="#111" stroke="#111" stroke-width="0.1">BVV</text><polygon points="506.14,229.31 508.45,231.21 508.50,229.83 506.19,227.93" fill="#36b4f2" stroke="rgba(0,40,40,0.55)" stroke-width="0.45" stroke-linejoin="round"/><polygon points="508.45,231.21 513.49,230.44 513.55,229.06 508.50,229.83" fill="#2d8dcc" stroke="rgba(0,40,40,0.55)" stroke-width="0.45" stroke-linejoin="round"/><polygon points="506.19,227.93 511.19,227.18 513.55,229.06 508.50,229.83" fill="#4aaee2" stroke="rgba(0,40,40,0.55)" stroke-width="0.45" stroke-linejoin="round"/><polygon points="496.02,230.84 498.24,232.78 498.28,231.38 496.05,229.45" fill="#36b4f2" stroke="rgba(0,40,40,0.55)" stroke-width="0.45" stroke-linejoin="round"/><polygon points="498.24,232.78 503.37,231.99 503.41,230.60 498.28,231.38" fill="#2d8dcc" stroke="rgba(0,40,40,0.55)" stroke-width="0.45" stroke-linejoin="round"/><polygon points="496.05,229.45 501.14,228.69 503.41,230.60 498.28,231.38" fill="#4aaee2" stroke="rgba(0,40,40,0.55)" stroke-width="0.45" stroke-linejoin="round"/><polygon points="485.72,232.40 487.85,234.37 487.85,233.94 485.72,231.97" fill="#32acf0" stroke="rgba(0,40,40,0.55)" stroke-width="0.45" stroke-linejoin="round"/><polygon points="487.85,234.37 493.07,233.57 493.08,233.14 487.85,233.94" fill="#2b84c4" stroke="rgba(0,40,40,0.55)" stroke-width="0.45" stroke-linejoin="round"/><polygon points="485.72,231.97 490.90,231.19 493.08,233.14 487.85,233.94" fill="#40a2d8" stroke="rgba(0,40,40,0.55)" stroke-width="0.45" stroke-linejoin="round"/><polygon points="510.76,234.55 513.16,236.54 513.22,235.14 510.81,233.16" fill="#30aef0" stroke="rgba(0,40,40,0.55)" stroke-width="0.45" stroke-linejoin="round"/><polygon points="513.16,236.54 518.27,235.73 518.34,234.34 513.22,235.14" fill="#2786c6" stroke="rgba(0,40,40,0.55)" stroke-width="0.45" stroke-linejoin="round"/><polygon points="510.81,233.16 515.89,232.37 518.34,234.34 513.22,235.14" fill="#103d64" stroke="rgba(0,40,40,0.55)" stroke-width="0.45" stroke-linejoin="round"/><polygon points="475.23,233.98 477.27,235.99 477.27,235.55 475.22,233.55" fill="#32acf0" stroke="rgba(0,40,40,0.55)" stroke-width="0.45" stroke-linejoin="round"/><polygon points="477.27,235.99 482.58,235.18 482.58,234.74 477.27,235.55" fill="#2b84c4" stroke="rgba(0,40,40,0.55)" stroke-width="0.45" stroke-linejoin="round"/><polygon points="475.22,233.55 480.49,232.76 482.58,234.74 477.27,235.55" fill="#40a2d8" stroke="rgba(0,40,40,0.55)" stroke-width="0.45" stroke-linejoin="round"/><polygon points="500.51,234.75 502.83,236.78 502.88,235.36 500.55,233.35" fill="#36b4f2" stroke="rgba(0,40,40,0.55)" stroke-width="0.45" stroke-linejoin="round"/><polygon points="502.83,236.78 508.05,235.96 508.10,234.54 502.88,235.36" fill="#2d8dcc" stroke="rgba(0,40,40,0.55)" stroke-width="0.45" stroke-linejoin="round"/><polygon points="500.55,233.35 505.73,232.55 508.10,234.54 502.88,235.36" fill="#4aaee2" stroke="rgba(0,40,40,0.55)" stroke-width="0.45" stroke-linejoin="round"/><polygon points="464.55,235.60 466.49,237.64 466.47,236.22 464.52,234.19" fill="#36b4f2" stroke="rgba(0,40,40,0.55)" stroke-width="0.45" stroke-linejoin="round"/><polygon points="466.49,237.64 471.91,236.81 471.89,235.39 466.47,236.22" fill="#2d8dcc" stroke="rgba(0,40,40,0.55)" stroke-width="0.45" stroke-linejoin="round"/><polygon points="464.52,234.19 469.89,233.38 471.89,235.39 466.47,236.22" fill="#4aaee2" stroke="rgba(0,40,40,0.55)" stroke-width="0.45" stroke-linejoin="round"/><polygon points="490.03,236.38 492.26,238.44 492.26,238.00 490.04,235.95" fill="#32acf0" stroke="rgba(0,40,40,0.55)" stroke-width="0.45" stroke-linejoin="round"/><polygon points="492.26,238.44 497.57,237.60 497.58,237.17 492.26,238.00" fill="#2b84c4" stroke="rgba(0,40,40,0.55)" stroke-width="0.45" stroke-linejoin="round"/><polygon points="490.04,235.95 495.30,235.13 497.58,237.17 492.26,238.00" fill="#40a2d8" stroke="rgba(0,40,40,0.55)" stroke-width="0.45" stroke-linejoin="round"/><polygon points="515.62,238.58 518.12,240.67 518.19,239.24 515.68,237.17" fill="#30aef0" stroke="rgba(0,40,40,0.55)" stroke-width="0.45" stroke-linejoin="round"/><polygon points="518.12,240.67 523.33,239.82 523.40,238.40 518.19,239.24" fill="#2786c6" stroke="rgba(0,40,40,0.55)" stroke-width="0.45" stroke-linejoin="round"/><polygon points="515.68,237.17 520.85,236.35 523.40,238.40 518.19,239.24" fill="#103d64" stroke="rgba(0,40,40,0.55)" stroke-width="0.45" stroke-linejoin="round"/><polygon points="453.67,237.24 455.52,239.32 455.47,237.89 453.63,235.82" fill="#36b4f2" stroke="rgba(0,40,40,0.55)" stroke-width="0.45" stroke-linejoin="round"/><polygon points="455.52,239.32 461.03,238.48 461.00,237.05 455.47,237.89" fill="#2d8dcc" stroke="rgba(0,40,40,0.55)" stroke-width="0.45" stroke-linejoin="round"/><polygon points="453.63,235.82 459.10,235.00 461.00,237.05 455.47,237.89" fill="#4aaee2" stroke="rgba(0,40,40,0.55)" stroke-width="0.45" stroke-linejoin="round"/><polygon points="479.35,238.04 481.49,240.13 481.49,239.69 479.35,237.60" fill="#32acf0" stroke="rgba(0,40,40,0.55)" stroke-width="0.45" stroke-linejoin="round"/><polygon points="481.49,240.13 486.90,239.28 486.90,238.84 481.49,239.69" fill="#2b84c4" stroke="rgba(0,40,40,0.55)" stroke-width="0.45" stroke-linejoin="round"/><polygon points="479.35,237.60 484.72,236.77 486.90,238.84 481.49,239.69" fill="#40a2d8" stroke="rgba(0,40,40,0.55)" stroke-width="0.45" stroke-linejoin="round"/><polygon points="505.20,238.84 507.63,240.95 507.64,240.51 505.22,238.40" fill="#32acf0" stroke="rgba(0,40,40,0.55)" stroke-width="0.45" stroke-linejoin="round"/><polygon points="507.63,240.95 512.93,240.09 512.95,239.65 507.64,240.51" fill="#2b84c4" stroke="rgba(0,40,40,0.55)" stroke-width="0.45" stroke-linejoin="round"/><polygon points="505.22,238.40 510.48,237.56 512.95,239.65 507.64,240.51" fill="#40a2d8" stroke="rgba(0,40,40,0.55)" stroke-width="0.45" stroke-linejoin="round"/><polygon points="442.60,238.92 444.34,241.03 444.32,240.59 442.58,238.48" fill="#32acf0" stroke="rgba(0,40,40,0.55)" stroke-width="0.45" stroke-linejoin="round"/><polygon points="444.34,241.03 449.95,240.17 449.94,239.73 444.32,240.59" fill="#2b84c4" stroke="rgba(0,40,40,0.55)" stroke-width="0.45" stroke-linejoin="round"/><polygon points="442.58,238.48 448.14,237.64 449.94,239.73 444.32,240.59" fill="#40a2d8" stroke="rgba(0,40,40,0.55)" stroke-width="0.45" stroke-linejoin="round"/><polygon points="468.50,241.16 470.53,243.30 470.51,241.86 468.48,239.73" fill="#30aef0" stroke="rgba(0,40,40,0.55)" stroke-width="0.45" stroke-linejoin="round"/><polygon points="470.53,243.30 476.03,242.43 476.02,240.99 470.51,241.86" fill="#2786c6" stroke="rgba(0,40,40,0.55)" stroke-width="0.45" stroke-linejoin="round"/><polygon points="468.48,239.73 473.94,238.88 476.02,240.99 470.51,241.86" fill="#103d64" stroke="rgba(0,40,40,0.55)" stroke-width="0.45" stroke-linejoin="round"/><polygon points="494.53,240.54 496.86,242.69 496.87,242.25 494.54,240.10" fill="#2496d8" stroke="rgba(0,40,40,0.55)" stroke-width="0.45" stroke-linejoin="round"/><polygon points="496.86,242.69 502.27,241.82 502.28,241.37 496.87,242.25" fill="#0c2c48" stroke="rgba(0,40,40,0.55)" stroke-width="0.45" stroke-linejoin="round"/><polygon points="494.54,240.10 499.90,239.25 502.28,241.37 496.87,242.25" fill="#14425f" stroke="rgba(0,40,40,0.55)" stroke-width="0.45" stroke-linejoin="round"/><polygon points="431.32,240.62 432.95,242.78 432.92,242.33 431.29,240.18" fill="#32acf0" stroke="rgba(0,40,40,0.55)" stroke-width="0.45" stroke-linejoin="round"/><polygon points="432.95,242.78 438.67,241.90 438.65,241.46 432.92,242.33" fill="#2b84c4" stroke="rgba(0,40,40,0.55)" stroke-width="0.45" stroke-linejoin="round"/><polygon points="431.29,240.18 436.96,239.33 438.65,241.46 432.92,242.33" fill="#40a2d8" stroke="rgba(0,40,40,0.55)" stroke-width="0.45" stroke-linejoin="round"/><polygon points="520.76,241.36 523.39,243.53 523.41,243.08 520.79,240.92" fill="#32acf0" stroke="rgba(0,40,40,0.55)" stroke-width="0.45" stroke-linejoin="round"/><polygon points="523.39,243.53 528.69,242.65 528.72,242.20 523.41,243.08" fill="#2b84c4" stroke="rgba(0,40,40,0.55)" stroke-width="0.45" stroke-linejoin="round"/><polygon points="520.79,240.92 526.04,240.06 528.72,242.20 523.41,243.08" fill="#40a2d8" stroke="rgba(0,40,40,0.55)" stroke-width="0.45" stroke-linejoin="round"/><polygon points="457.40,241.45 459.33,243.62 459.32,243.17 457.39,241.00" fill="#32acf0" stroke="rgba(0,40,40,0.55)" stroke-width="0.45" stroke-linejoin="round"/><polygon points="459.33,243.62 464.95,242.74 464.94,242.29 459.32,243.17" fill="#2b84c4" stroke="rgba(0,40,40,0.55)" stroke-width="0.45" stroke-linejoin="round"/><polygon points="457.39,241.00 462.96,240.14 464.94,242.29 459.32,243.17" fill="#40a2d8" stroke="rgba(0,40,40,0.55)" stroke-width="0.45" stroke-linejoin="round"/><polygon points="483.66,243.72 485.88,245.92 485.89,244.46 483.66,242.27" fill="#30aef0" stroke="rgba(0,40,40,0.55)" stroke-width="0.45" stroke-linejoin="round"/><polygon points="485.88,245.92 491.38,245.02 491.40,243.57 485.89,244.46" fill="#2786c6" stroke="rgba(0,40,40,0.55)" stroke-width="0.45" stroke-linejoin="round"/><polygon points="483.66,242.27 489.12,241.40 491.40,243.57 485.89,244.46" fill="#103d64" stroke="rgba(0,40,40,0.55)" stroke-width="0.45" stroke-linejoin="round"/><polygon points="510.10,243.11 512.63,245.31 512.65,244.86 510.12,242.66" fill="#32acf0" stroke="rgba(0,40,40,0.55)" stroke-width="0.45" stroke-linejoin="round"/><polygon points="512.63,245.31 518.04,244.42 518.06,243.97 512.65,244.86" fill="#2b84c4" stroke="rgba(0,40,40,0.55)" stroke-width="0.45" stroke-linejoin="round"/><polygon points="510.12,242.66 515.48,241.79 518.06,243.97 512.65,244.86" fill="#40a2d8" stroke="rgba(0,40,40,0.55)" stroke-width="0.45" stroke-linejoin="round"/><polygon points="446.12,243.20 447.94,245.41 447.92,244.96 446.10,242.75" fill="#32acf0" stroke="rgba(0,40,40,0.55)" stroke-width="0.45" stroke-linejoin="round"/><polygon points="447.94,245.41 453.66,244.51 453.64,244.06 447.92,244.96" fill="#2b84c4" stroke="rgba(0,40,40,0.55)" stroke-width="0.45" stroke-linejoin="round"/><polygon points="446.10,242.75 451.77,241.87 453.64,244.06 447.92,244.96" fill="#40a2d8" stroke="rgba(0,40,40,0.55)" stroke-width="0.45" stroke-linejoin="round"/><polygon points="472.60,245.50 474.72,247.74 474.71,246.27 472.59,244.04" fill="#30aef0" stroke="rgba(0,40,40,0.55)" stroke-width="0.45" stroke-linejoin="round"/><polygon points="474.72,247.74 480.33,246.82 480.33,245.36 474.71,246.27" fill="#2786c6" stroke="rgba(0,40,40,0.55)" stroke-width="0.45" stroke-linejoin="round"/><polygon points="472.59,244.04 478.15,243.15 480.33,245.36 474.71,246.27" fill="#103d64" stroke="rgba(0,40,40,0.55)" stroke-width="0.45" stroke-linejoin="round"/><polygon points="499.24,244.89 501.67,247.14 501.71,245.66 499.28,243.42" fill="#36b4f2" stroke="rgba(0,40,40,0.55)" stroke-width="0.45" stroke-linejoin="round"/><polygon points="501.67,247.14 507.18,246.22 507.23,244.75 501.71,245.66" fill="#2d8dcc" stroke="rgba(0,40,40,0.55)" stroke-width="0.45" stroke-linejoin="round"/><polygon points="499.28,243.42 504.74,242.54 507.23,244.75 501.71,245.66" fill="#4aaee2" stroke="rgba(0,40,40,0.55)" stroke-width="0.45" stroke-linejoin="round"/><polygon points="434.62,244.98 436.32,247.24 436.30,246.78 434.59,244.53" fill="#2496d8" stroke="rgba(0,40,40,0.55)" stroke-width="0.45" stroke-linejoin="round"/><polygon points="436.32,247.24 442.16,246.32 442.14,245.87 436.30,246.78" fill="#0c2c48" stroke="rgba(0,40,40,0.55)" stroke-width="0.45" stroke-linejoin="round"/><polygon points="434.59,244.53 440.37,243.64 442.14,245.87 436.30,246.78" fill="#14425f" stroke="rgba(0,40,40,0.55)" stroke-width="0.45" stroke-linejoin="round"/><polygon points="526.07,245.74 528.82,248.01 528.91,246.53 526.16,244.27" fill="#36b4f2" stroke="rgba(0,40,40,0.55)" stroke-width="0.45" stroke-linejoin="round"/><polygon points="528.82,248.01 534.21,247.08 534.32,245.61 528.91,246.53" fill="#2d8dcc" stroke="rgba(0,40,40,0.55)" stroke-width="0.45" stroke-linejoin="round"/><polygon points="526.16,244.27 531.52,243.38 534.32,245.61 528.91,246.53" fill="#4aaee2" stroke="rgba(0,40,40,0.55)" stroke-width="0.45" stroke-linejoin="round"/><polygon points="461.30,245.84 463.32,248.11 463.31,247.66 461.29,245.39" fill="#32acf0" stroke="rgba(0,40,40,0.55)" stroke-width="0.45" stroke-linejoin="round"/><polygon points="463.32,248.11 469.04,247.19 469.03,246.73 463.31,247.66" fill="#2b84c4" stroke="rgba(0,40,40,0.55)" stroke-width="0.45" stroke-linejoin="round"/><polygon points="461.29,245.39 466.96,244.49 469.03,246.73 463.31,247.66" fill="#40a2d8" stroke="rgba(0,40,40,0.55)" stroke-width="0.45" stroke-linejoin="round"/><polygon points="488.17,246.70 490.50,248.99 490.50,248.53 488.17,246.25" fill="#2496d8" stroke="rgba(0,40,40,0.55)" stroke-width="0.45" stroke-linejoin="round"/><polygon points="490.50,248.99 496.11,248.06 496.12,247.60 490.50,248.53" fill="#0c2c48" stroke="rgba(0,40,40,0.55)" stroke-width="0.45" stroke-linejoin="round"/><polygon points="488.17,246.25 493.74,245.34 496.12,247.60 490.50,248.53" fill="#14425f" stroke="rgba(0,40,40,0.55)" stroke-width="0.45" stroke-linejoin="round"/><polygon points="515.22,247.57 517.87,249.88 517.94,248.39 515.29,246.09" fill="#36b4f2" stroke="rgba(0,40,40,0.55)" stroke-width="0.45" stroke-linejoin="round"/><polygon points="517.87,249.88 523.37,248.94 523.45,247.45 517.94,248.39" fill="#2d8dcc" stroke="rgba(0,40,40,0.55)" stroke-width="0.45" stroke-linejoin="round"/><polygon points="515.29,246.09 520.75,245.18 523.45,247.45 517.94,248.39" fill="#4aaee2" stroke="rgba(0,40,40,0.55)" stroke-width="0.45" stroke-linejoin="round"/><polygon points="449.80,247.67 451.70,249.99 451.68,249.53 449.78,247.22" fill="#2496d8" stroke="rgba(0,40,40,0.55)" stroke-width="0.45" stroke-linejoin="round"/><polygon points="451.70,249.99 457.54,249.05 457.52,248.59 451.68,249.53" fill="#0c2c48" stroke="rgba(0,40,40,0.55)" stroke-width="0.45" stroke-linejoin="round"/><polygon points="449.78,247.22 455.56,246.30 457.52,248.59 451.68,249.53" fill="#14425f" stroke="rgba(0,40,40,0.55)" stroke-width="0.45" stroke-linejoin="round"/><polygon points="476.88,248.55 479.11,250.88 479.10,250.42 476.88,248.09" fill="#32acf0" stroke="rgba(0,40,40,0.55)" stroke-width="0.45" stroke-linejoin="round"/><polygon points="479.11,250.88 484.83,249.93 484.83,249.47 479.10,250.42" fill="#2b84c4" stroke="rgba(0,40,40,0.55)" stroke-width="0.45" stroke-linejoin="round"/><polygon points="476.88,248.09 482.55,247.17 484.83,249.47 479.10,250.42" fill="#40a2d8" stroke="rgba(0,40,40,0.55)" stroke-width="0.45" stroke-linejoin="round"/><polygon points="504.16,249.43 506.71,251.79 506.72,251.32 504.17,248.98" fill="#32acf0" stroke="rgba(0,40,40,0.55)" stroke-width="0.45" stroke-linejoin="round"/><polygon points="506.71,251.79 512.31,250.83 512.33,250.37 506.72,251.32" fill="#2b84c4" stroke="rgba(0,40,40,0.55)" stroke-width="0.45" stroke-linejoin="round"/><polygon points="504.17,248.98 509.73,248.04 512.33,250.37 506.72,251.32" fill="#40a2d8" stroke="rgba(0,40,40,0.55)" stroke-width="0.45" stroke-linejoin="round"/><polygon points="438.15,251.03 439.93,253.40 439.85,251.90 438.07,249.54" fill="#30aef0" stroke="rgba(0,40,40,0.55)" stroke-width="0.45" stroke-linejoin="round"/><polygon points="439.93,253.40 445.87,252.43 445.81,250.94 439.85,251.90" fill="#2786c6" stroke="rgba(0,40,40,0.55)" stroke-width="0.45" stroke-linejoin="round"/><polygon points="438.07,249.54 443.96,248.60 445.81,250.94 439.85,251.90" fill="#103d64" stroke="rgba(0,40,40,0.55)" stroke-width="0.45" stroke-linejoin="round"/><polygon points="531.53,251.81 534.39,254.19 534.50,252.69 531.63,250.32" fill="#30aef0" stroke="rgba(0,40,40,0.55)" stroke-width="0.45" stroke-linejoin="round"/><polygon points="534.39,254.19 539.88,253.22 539.99,251.73 534.50,252.69" fill="#2786c6" stroke="rgba(0,40,40,0.55)" stroke-width="0.45" stroke-linejoin="round"/><polygon points="531.63,250.32 537.07,249.38 539.99,251.73 534.50,252.69" fill="#103d64" stroke="rgba(0,40,40,0.55)" stroke-width="0.45" stroke-linejoin="round"/><polygon points="465.38,250.44 467.49,252.81 467.48,252.35 465.37,249.98" fill="#32acf0" stroke="rgba(0,40,40,0.55)" stroke-width="0.45" stroke-linejoin="round"/><polygon points="467.49,252.81 473.33,251.84 473.32,251.38 467.48,252.35" fill="#2b84c4" stroke="rgba(0,40,40,0.55)" stroke-width="0.45" stroke-linejoin="round"/><polygon points="465.37,249.98 471.15,249.03 473.32,251.38 467.48,252.35" fill="#40a2d8" stroke="rgba(0,40,40,0.55)" stroke-width="0.45" stroke-linejoin="round"/><polygon points="492.88,251.33 495.32,253.73 495.33,253.27 492.89,250.87" fill="#32acf0" stroke="rgba(0,40,40,0.55)" stroke-width="0.45" stroke-linejoin="round"/><polygon points="495.32,253.73 501.04,252.75 501.05,252.29 495.33,253.27" fill="#2b84c4" stroke="rgba(0,40,40,0.55)" stroke-width="0.45" stroke-linejoin="round"/><polygon points="492.89,250.87 498.56,249.92 501.05,252.29 495.33,253.27" fill="#40a2d8" stroke="rgba(0,40,40,0.55)" stroke-width="0.45" stroke-linejoin="round"/><polygon points="520.58,252.24 523.35,254.65 523.44,253.14 520.66,250.74" fill="#36b4f2" stroke="rgba(0,40,40,0.55)" stroke-width="0.45" stroke-linejoin="round"/><polygon points="523.35,254.65 528.95,253.67 529.05,252.16 523.44,253.14" fill="#2d8dcc" stroke="rgba(0,40,40,0.55)" stroke-width="0.45" stroke-linejoin="round"/><polygon points="520.66,250.74 526.22,249.78 529.05,252.16 523.44,253.14" fill="#4aaee2" stroke="rgba(0,40,40,0.55)" stroke-width="0.45" stroke-linejoin="round"/><polygon points="453.65,252.36 455.64,254.78 455.59,253.26 453.59,250.85" fill="#36b4f2" stroke="rgba(0,40,40,0.55)" stroke-width="0.45" stroke-linejoin="round"/><polygon points="455.64,254.78 461.59,253.79 461.56,252.28 455.59,253.26" fill="#2d8dcc" stroke="rgba(0,40,40,0.55)" stroke-width="0.45" stroke-linejoin="round"/><polygon points="453.59,250.85 459.50,249.89 461.56,252.28 455.59,253.26" fill="#4aaee2" stroke="rgba(0,40,40,0.55)" stroke-width="0.45" stroke-linejoin="round"/><polygon points="481.38,253.27 483.71,255.72 483.71,255.25 481.38,252.81" fill="#32acf0" stroke="rgba(0,40,40,0.55)" stroke-width="0.45" stroke-linejoin="round"/><polygon points="483.71,255.72 489.54,254.72 489.55,254.25 483.71,255.25" fill="#2b84c4" stroke="rgba(0,40,40,0.55)" stroke-width="0.45" stroke-linejoin="round"/><polygon points="481.38,252.81 487.16,251.84 489.55,254.25 483.71,255.25" fill="#40a2d8" stroke="rgba(0,40,40,0.55)" stroke-width="0.45" stroke-linejoin="round"/><polygon points="509.31,254.19 511.98,256.66 512.00,256.19 509.33,253.73" fill="#32acf0" stroke="rgba(0,40,40,0.55)" stroke-width="0.45" stroke-linejoin="round"/><polygon points="511.98,256.66 517.69,255.65 517.72,255.18 512.00,256.19" fill="#2b84c4" stroke="rgba(0,40,40,0.55)" stroke-width="0.45" stroke-linejoin="round"/><polygon points="509.33,253.73 514.99,252.75 517.72,255.18 512.00,256.19" fill="#40a2d8" stroke="rgba(0,40,40,0.55)" stroke-width="0.45" stroke-linejoin="round"/><polygon points="441.68,254.32 443.55,256.79 443.53,256.32 441.66,253.85" fill="#2496d8" stroke="rgba(0,40,40,0.55)" stroke-width="0.45" stroke-linejoin="round"/><polygon points="443.55,256.79 449.63,255.78 449.61,255.31 443.53,256.32" fill="#0c2c48" stroke="rgba(0,40,40,0.55)" stroke-width="0.45" stroke-linejoin="round"/><polygon points="441.66,253.85 447.67,252.87 449.61,255.31 443.53,256.32" fill="#14425f" stroke="rgba(0,40,40,0.55)" stroke-width="0.45" stroke-linejoin="round"/><polygon points="537.33,256.63 540.33,259.13 540.45,257.60 537.44,255.12" fill="#30aef0" stroke="rgba(0,40,40,0.55)" stroke-width="0.45" stroke-linejoin="round"/><polygon points="540.33,259.13 545.91,258.11 546.05,256.59 540.45,257.60" fill="#2786c6" stroke="rgba(0,40,40,0.55)" stroke-width="0.45" stroke-linejoin="round"/><polygon points="537.44,255.12 542.98,254.13 546.05,256.59 540.45,257.60" fill="#103d64" stroke="rgba(0,40,40,0.55)" stroke-width="0.45" stroke-linejoin="round"/><polygon points="469.65,255.25 471.86,257.74 471.84,256.21 469.63,253.73" fill="#36b4f2" stroke="rgba(0,40,40,0.55)" stroke-width="0.45" stroke-linejoin="round"/><polygon points="471.86,257.74 477.81,256.72 477.81,255.19 471.84,256.21" fill="#2d8dcc" stroke="rgba(0,40,40,0.55)" stroke-width="0.45" stroke-linejoin="round"/><polygon points="469.63,253.73 475.53,252.74 477.81,255.19 471.84,256.21" fill="#4aaee2" stroke="rgba(0,40,40,0.55)" stroke-width="0.45" stroke-linejoin="round"/><polygon points="497.82,256.18 500.37,258.70 500.39,258.23 497.83,255.72" fill="#2496d8" stroke="rgba(0,40,40,0.55)" stroke-width="0.45" stroke-linejoin="round"/><polygon points="500.37,258.70 506.20,257.67 506.22,257.20 500.39,258.23" fill="#0c2c48" stroke="rgba(0,40,40,0.55)" stroke-width="0.45" stroke-linejoin="round"/><polygon points="497.83,255.72 503.61,254.72 506.22,257.20 500.39,258.23" fill="#14425f" stroke="rgba(0,40,40,0.55)" stroke-width="0.45" stroke-linejoin="round"/><polygon points="526.19,257.13 529.10,259.66 529.13,259.19 526.22,256.66" fill="#32acf0" stroke="rgba(0,40,40,0.55)" stroke-width="0.45" stroke-linejoin="round"/><polygon points="529.10,259.66 534.80,258.63 534.84,258.16 529.13,259.19" fill="#2b84c4" stroke="rgba(0,40,40,0.55)" stroke-width="0.45" stroke-linejoin="round"/><polygon points="526.22,256.66 531.88,255.65 534.84,258.16 529.13,259.19" fill="#40a2d8" stroke="rgba(0,40,40,0.55)" stroke-width="0.45" stroke-linejoin="round"/><polygon points="457.68,257.26 459.77,259.81 459.76,259.33 457.67,256.79" fill="#2496d8" stroke="rgba(0,40,40,0.55)" stroke-width="0.45" stroke-linejoin="round"/><polygon points="459.77,259.81 465.84,258.77 465.84,258.30 459.76,259.33" fill="#0c2c48" stroke="rgba(0,40,40,0.55)" stroke-width="0.45" stroke-linejoin="round"/><polygon points="457.67,256.79 463.68,255.78 465.84,258.30 459.76,259.33" fill="#14425f" stroke="rgba(0,40,40,0.55)" stroke-width="0.45" stroke-linejoin="round"/><polygon points="486.09,258.22 488.53,260.78 488.54,260.31 486.09,257.75" fill="#2496d8" stroke="rgba(0,40,40,0.55)" stroke-width="0.45" stroke-linejoin="round"/><polygon points="488.53,260.78 494.48,259.73 494.49,259.26 488.54,260.31" fill="#0c2c48" stroke="rgba(0,40,40,0.55)" stroke-width="0.45" stroke-linejoin="round"/><polygon points="486.09,257.75 491.99,256.73 494.49,259.26 488.54,260.31" fill="#14425f" stroke="rgba(0,40,40,0.55)" stroke-width="0.45" stroke-linejoin="round"/><polygon points="514.64,260.71 517.43,263.31 517.51,261.76 514.71,259.18" fill="#30aef0" stroke="rgba(0,40,40,0.55)" stroke-width="0.45" stroke-linejoin="round"/><polygon points="517.43,263.31 523.24,262.25 523.33,260.71 517.51,261.76" fill="#2786c6" stroke="rgba(0,40,40,0.55)" stroke-width="0.45" stroke-linejoin="round"/><polygon points="514.71,259.18 520.48,258.15 523.33,260.71 517.51,261.76" fill="#103d64" stroke="rgba(0,40,40,0.55)" stroke-width="0.45" stroke-linejoin="round"/><polygon points="445.47,259.32 447.43,261.92 447.41,261.44 445.44,258.85" fill="#2496d8" stroke="rgba(0,40,40,0.55)" stroke-width="0.45" stroke-linejoin="round"/><polygon points="447.43,261.92 453.63,260.86 453.61,260.38 447.41,261.44" fill="#0c2c48" stroke="rgba(0,40,40,0.55)" stroke-width="0.45" stroke-linejoin="round"/><polygon points="445.44,258.85 451.59,257.82 453.61,260.38 447.41,261.44" fill="#14425f" stroke="rgba(0,40,40,0.55)" stroke-width="0.45" stroke-linejoin="round"/><polygon points="543.54,260.15 546.70,262.75 546.74,262.27 543.58,259.67" fill="#32acf0" stroke="rgba(0,40,40,0.55)" stroke-width="0.45" stroke-linejoin="round"/><polygon points="546.70,262.75 552.39,261.69 552.44,261.21 546.74,262.27" fill="#2b84c4" stroke="rgba(0,40,40,0.55)" stroke-width="0.45" stroke-linejoin="round"/><polygon points="543.58,259.67 549.23,258.63 552.44,261.21 546.74,262.27" fill="#40a2d8" stroke="rgba(0,40,40,0.55)" stroke-width="0.45" stroke-linejoin="round"/><polygon points="474.12,260.29 476.44,262.91 476.44,261.35 474.11,258.75" fill="#36b4f2" stroke="rgba(0,40,40,0.55)" stroke-width="0.45" stroke-linejoin="round"/><polygon points="476.44,262.91 482.52,261.84 482.52,260.28 476.44,261.35" fill="#2d8dcc" stroke="rgba(0,40,40,0.55)" stroke-width="0.45" stroke-linejoin="round"/><polygon points="474.11,258.75 480.14,257.71 482.52,260.28 476.44,261.35" fill="#4aaee2" stroke="rgba(0,40,40,0.55)" stroke-width="0.45" stroke-linejoin="round"/><polygon points="502.94,262.82 505.62,265.47 505.67,263.91 502.99,261.27" fill="#30aef0" stroke="rgba(0,40,40,0.55)" stroke-width="0.45" stroke-linejoin="round"/><polygon points="505.62,265.47 511.56,264.38 511.62,262.83 505.67,263.91" fill="#2786c6" stroke="rgba(0,40,40,0.55)" stroke-width="0.45" stroke-linejoin="round"/><polygon points="502.99,261.27 508.88,260.22 511.62,262.83 505.67,263.91" fill="#103d64" stroke="rgba(0,40,40,0.55)" stroke-width="0.45" stroke-linejoin="round"/><polygon points="532.07,262.26 535.13,264.92 535.24,263.35 532.18,260.70" fill="#36b4f2" stroke="rgba(0,40,40,0.55)" stroke-width="0.45" stroke-linejoin="round"/><polygon points="535.13,264.92 540.94,263.83 541.07,262.27 535.24,263.35" fill="#2d8dcc" stroke="rgba(0,40,40,0.55)" stroke-width="0.45" stroke-linejoin="round"/><polygon points="532.18,260.70 537.95,259.65 541.07,262.27 535.24,263.35" fill="#4aaee2" stroke="rgba(0,40,40,0.55)" stroke-width="0.45" stroke-linejoin="round"/><polygon points="461.91,262.41 464.10,265.08 464.09,264.60 461.90,261.93" fill="#2496d8" stroke="rgba(0,40,40,0.55)" stroke-width="0.45" stroke-linejoin="round"/><polygon points="464.10,265.08 470.31,263.99 470.30,263.51 464.09,264.60" fill="#0c2c48" stroke="rgba(0,40,40,0.55)" stroke-width="0.45" stroke-linejoin="round"/><polygon points="461.90,261.93 468.04,260.87 470.30,263.51 464.09,264.60" fill="#14425f" stroke="rgba(0,40,40,0.55)" stroke-width="0.45" stroke-linejoin="round"/><polygon points="491.03,263.41 493.59,266.10 493.60,265.61 491.04,262.93" fill="#2496d8" stroke="rgba(0,40,40,0.55)" stroke-width="0.45" stroke-linejoin="round"/><polygon points="493.59,266.10 499.67,265.00 499.68,264.51 493.60,265.61" fill="#0c2c48" stroke="rgba(0,40,40,0.55)" stroke-width="0.45" stroke-linejoin="round"/><polygon points="491.04,262.93 497.05,261.86 499.68,264.51 493.60,265.61" fill="#14425f" stroke="rgba(0,40,40,0.55)" stroke-width="0.45" stroke-linejoin="round"/><polygon points="520.37,264.41 523.31,267.12 523.40,265.54 520.46,262.84" fill="#36b4f2" stroke="rgba(0,40,40,0.55)" stroke-width="0.45" stroke-linejoin="round"/><polygon points="523.31,267.12 529.25,266.01 529.35,264.44 523.40,265.54" fill="#2d8dcc" stroke="rgba(0,40,40,0.55)" stroke-width="0.45" stroke-linejoin="round"/><polygon points="520.46,262.84 526.35,261.77 529.35,264.44 523.40,265.54" fill="#4aaee2" stroke="rgba(0,40,40,0.55)" stroke-width="0.45" stroke-linejoin="round"/><polygon points="449.44,264.57 451.50,267.30 451.48,266.81 449.42,264.09" fill="#2496d8" stroke="rgba(0,40,40,0.55)" stroke-width="0.45" stroke-linejoin="round"/><polygon points="451.50,267.30 457.83,266.18 457.82,265.70 451.48,266.81" fill="#0c2c48" stroke="rgba(0,40,40,0.55)" stroke-width="0.45" stroke-linejoin="round"/><polygon points="449.42,264.09 455.69,263.01 457.82,265.70 451.48,266.81" fill="#14425f" stroke="rgba(0,40,40,0.55)" stroke-width="0.45" stroke-linejoin="round"/><polygon points="478.82,265.59 481.26,268.33 481.26,267.85 478.82,265.10" fill="#2496d8" stroke="rgba(0,40,40,0.55)" stroke-width="0.45" stroke-linejoin="round"/><polygon points="481.26,268.33 487.46,267.21 487.46,266.72 481.26,267.85" fill="#0c2c48" stroke="rgba(0,40,40,0.55)" stroke-width="0.45" stroke-linejoin="round"/><polygon points="478.82,265.10 484.96,264.01 487.46,266.72 481.26,267.85" fill="#14425f" stroke="rgba(0,40,40,0.55)" stroke-width="0.45" stroke-linejoin="round"/><polygon points="508.36,268.18 511.18,270.97 511.24,269.38 508.42,266.61" fill="#30aef0" stroke="rgba(0,40,40,0.55)" stroke-width="0.45" stroke-linejoin="round"/><polygon points="511.18,270.97 517.23,269.83 517.31,268.25 511.24,269.38" fill="#2786c6" stroke="rgba(0,40,40,0.55)" stroke-width="0.45" stroke-linejoin="round"/><polygon points="508.42,266.61 514.43,265.50 517.31,268.25 511.24,269.38" fill="#103d64" stroke="rgba(0,40,40,0.55)" stroke-width="0.45" stroke-linejoin="round"/><polygon points="466.38,269.39 468.68,272.21 468.66,270.62 466.35,267.81" fill="#30aef0" stroke="rgba(0,40,40,0.55)" stroke-width="0.45" stroke-linejoin="round"/><polygon points="468.68,272.21 475.00,271.06 474.99,269.47 468.66,270.62" fill="#2786c6" stroke="rgba(0,40,40,0.55)" stroke-width="0.45" stroke-linejoin="round"/><polygon points="466.35,267.81 472.62,266.70 474.99,269.47 468.66,270.62" fill="#103d64" stroke="rgba(0,40,40,0.55)" stroke-width="0.45" stroke-linejoin="round"/><polygon points="496.22,268.86 498.92,271.69 498.93,271.19 496.23,268.37" fill="#2496d8" stroke="rgba(0,40,40,0.55)" stroke-width="0.45" stroke-linejoin="round"/><polygon points="498.92,271.69 505.11,270.53 505.13,270.04 498.93,271.19" fill="#0c2c48" stroke="rgba(0,40,40,0.55)" stroke-width="0.45" stroke-linejoin="round"/><polygon points="496.23,268.37 502.37,267.24 505.13,270.04 498.93,271.19" fill="#14425f" stroke="rgba(0,40,40,0.55)" stroke-width="0.45" stroke-linejoin="round"/><polygon points="453.67,271.68 455.83,274.56 455.78,272.95 453.61,270.09" fill="#30aef0" stroke="rgba(0,40,40,0.55)" stroke-width="0.45" stroke-linejoin="round"/><polygon points="455.83,274.56 462.29,273.38 462.25,271.78 455.78,272.95" fill="#2786c6" stroke="rgba(0,40,40,0.55)" stroke-width="0.45" stroke-linejoin="round"/><polygon points="453.61,270.09 460.02,268.95 462.25,271.78 455.78,272.95" fill="#103d64" stroke="rgba(0,40,40,0.55)" stroke-width="0.45" stroke-linejoin="round"/><polygon points="483.76,271.15 486.32,274.04 486.33,272.42 483.76,269.55" fill="#36b4f2" stroke="rgba(0,40,40,0.55)" stroke-width="0.45" stroke-linejoin="round"/><polygon points="486.32,274.04 492.65,272.86 492.68,271.25 486.33,272.42" fill="#2d8dcc" stroke="rgba(0,40,40,0.55)" stroke-width="0.45" stroke-linejoin="round"/><polygon points="483.76,269.55 490.04,268.40 492.68,271.25 486.33,272.42" fill="#4aaee2" stroke="rgba(0,40,40,0.55)" stroke-width="0.45" stroke-linejoin="round"/><polygon points="471.02,273.50 473.45,276.45 473.43,274.82 471.00,271.88" fill="#36b4f2" stroke="rgba(0,40,40,0.55)" stroke-width="0.45" stroke-linejoin="round"/><polygon points="473.45,276.45 479.92,275.24 479.92,273.61 473.43,274.82" fill="#2d8dcc" stroke="rgba(0,40,40,0.55)" stroke-width="0.45" stroke-linejoin="round"/><polygon points="471.00,271.88 477.42,270.71 479.92,273.61 473.43,274.82" fill="#4aaee2" stroke="rgba(0,40,40,0.55)" stroke-width="0.45" stroke-linejoin="round"/><polygon points="458.05,277.51 460.33,280.54 460.29,278.91 458.00,275.89" fill="#30aef0" stroke="rgba(0,40,40,0.55)" stroke-width="0.45" stroke-linejoin="round"/><polygon points="460.33,280.54 466.93,279.30 466.90,277.67 460.29,278.91" fill="#2786c6" stroke="rgba(0,40,40,0.55)" stroke-width="0.45" stroke-linejoin="round"/><polygon points="458.00,275.89 464.55,274.69 466.90,277.67 460.29,278.91" fill="#103d64" stroke="rgba(0,40,40,0.55)" stroke-width="0.45" stroke-linejoin="round"/><text x="-0.5" y="13" font-size="18" fill="#111" stroke="#111" stroke-width="0.35">(a)</text><text x="197.5" y="14.5" font-size="18" fill="#111" stroke="#111" stroke-width="0.35">(b)</text><text x="387" y="14" font-size="18" fill="#111" stroke="#111" stroke-width="0.35">(c)</text><text x="-0.5" y="170.5" font-size="18" fill="#111" stroke="#111" stroke-width="0.35">(d)</text><text x="197.5" y="170.5" font-size="18" fill="#111" stroke="#111" stroke-width="0.35">(e)</text><text x="387" y="170.5" font-size="18" fill="#111" stroke="#111" stroke-width="0.35">(f)</text><text x="33.0" y="35.7" font-size="16" fill="#111">Re(&#961;<tspan font-size="10" dy="4.3">A</tspan><tspan dy="-4.3">)</tspan></text><text x="229.3" y="36.5" font-size="16" fill="#111">Re(&#961;<tspan font-size="10" dy="4.3">B</tspan><tspan dy="-4.3">)</tspan></text><text x="431.4" y="39.5" font-size="16" fill="#111">Re(&#961;<tspan font-size="10" dy="4.3">(AB)</tspan><tspan dy="-4.3">)</tspan></text><text x="36.0" y="195.0" font-size="16" fill="#111">Im(&#961;<tspan font-size="10" dy="4.3">A</tspan><tspan dy="-4.3">)</tspan></text><text x="229.5" y="195.2" font-size="16" fill="#111">Im(&#961;<tspan font-size="10" dy="4.3">B</tspan><tspan dy="-4.3">)</tspan></text><text x="431.4" y="193.8" font-size="16" fill="#111">Im(&#961;<tspan font-size="10" dy="4.3">(AB)</tspan><tspan dy="-4.3">)</tspan></text><text transform="translate(87.8,46.8) scale(1,1.05)" font-size="14" font-family="Liberation Sans, sans-serif" fill="#111" stroke="#111" stroke-width="0.1">0.929(3)</text><text transform="translate(281.5,46.7) scale(1,1.05)" font-size="14" font-family="Liberation Sans, sans-serif" fill="#111" stroke="#111" stroke-width="0.1">0.926(3)</text></svg></body></html>
